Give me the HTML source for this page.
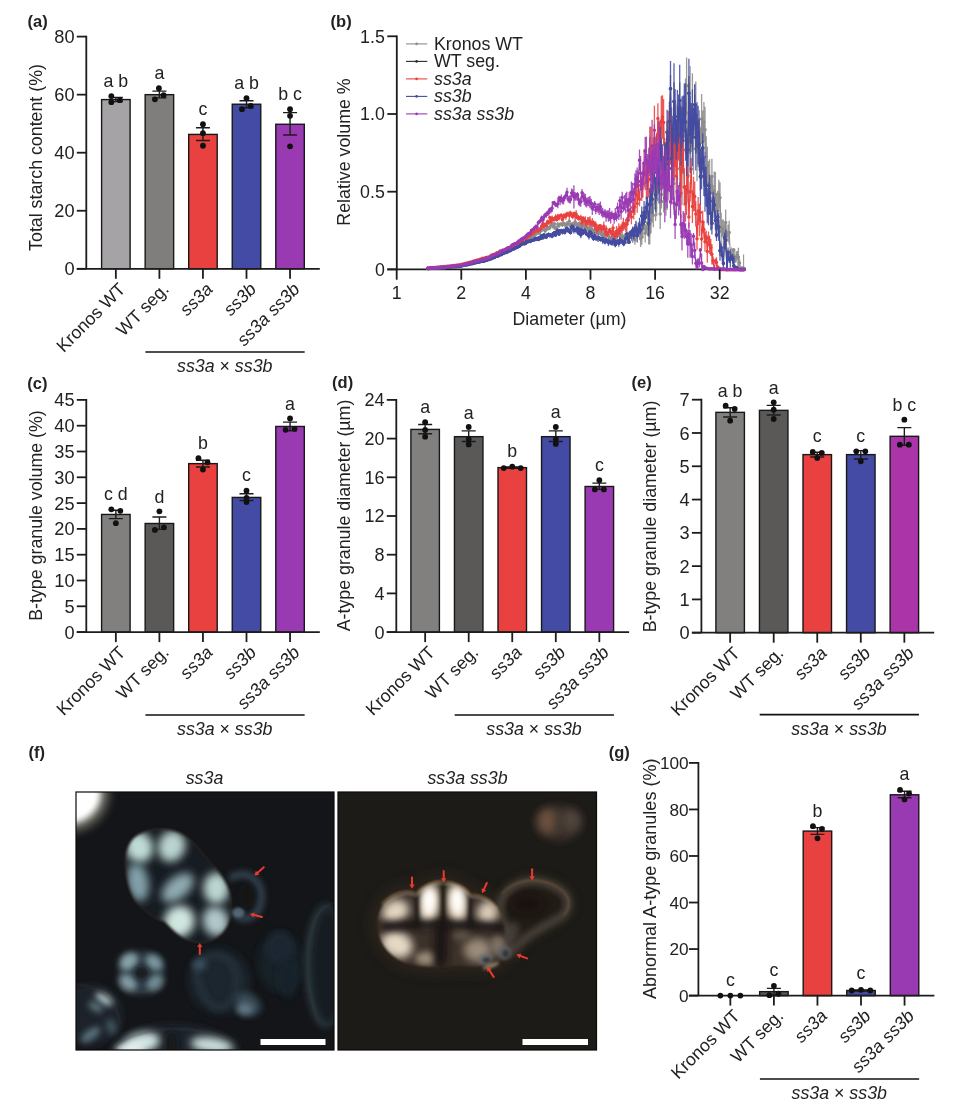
<!DOCTYPE html>
<html lang="en"><head><meta charset="utf-8"><title>Figure</title>
<style>html,body{margin:0;padding:0;background:#fff}svg{display:block}text{font-family:"Liberation Sans", Arial, Helvetica, sans-serif}</style>
</head><body>
<svg width="978" height="1109" viewBox="0 0 978 1109" font-family='"Liberation Sans", Arial, Helvetica, sans-serif' fill="#222222">
<g><rect x="101.60" y="99.58" width="28.5" height="169.22" fill="#a5a3a5" stroke="#181818" stroke-width="1.4"/>
<rect x="145.15" y="94.65" width="28.5" height="174.15" fill="#7f7e7c" stroke="#181818" stroke-width="1.4"/>
<rect x="188.70" y="134.41" width="28.5" height="134.39" fill="#e8413f" stroke="#181818" stroke-width="1.4"/>
<rect x="232.25" y="104.23" width="28.5" height="164.57" fill="#434ba5" stroke="#181818" stroke-width="1.4"/>
<rect x="275.80" y="124.26" width="28.5" height="144.54" fill="#9a3ab3" stroke="#181818" stroke-width="1.4"/>
<path d="M86.30 35.70V269.70M76.80 268.80H319.80" stroke="#1c1c1c" stroke-width="1.8" fill="none"/>
<path d="M76.80 268.80H86.30" stroke="#1c1c1c" stroke-width="1.8"/>
<text x="74.60" y="275.35" text-anchor="end" font-size="18.2">0</text>
<path d="M76.80 210.75H86.30" stroke="#1c1c1c" stroke-width="1.8"/>
<text x="74.60" y="217.30" text-anchor="end" font-size="18.2">20</text>
<path d="M76.80 152.70H86.30" stroke="#1c1c1c" stroke-width="1.8"/>
<text x="74.60" y="159.25" text-anchor="end" font-size="18.2">40</text>
<path d="M76.80 94.65H86.30" stroke="#1c1c1c" stroke-width="1.8"/>
<text x="74.60" y="101.20" text-anchor="end" font-size="18.2">60</text>
<path d="M76.80 36.60H86.30" stroke="#1c1c1c" stroke-width="1.8"/>
<text x="74.60" y="43.15" text-anchor="end" font-size="18.2">80</text>
<path d="M115.85 268.80v10" stroke="#1c1c1c" stroke-width="1.8"/>
<path d="M159.40 268.80v10" stroke="#1c1c1c" stroke-width="1.8"/>
<path d="M202.95 268.80v10" stroke="#1c1c1c" stroke-width="1.8"/>
<path d="M246.50 268.80v10" stroke="#1c1c1c" stroke-width="1.8"/>
<path d="M290.05 268.80v10" stroke="#1c1c1c" stroke-width="1.8"/>
<path d="M115.85 97.55V101.62M108.85 97.55h14M108.85 101.62h14" stroke="#1c1c1c" stroke-width="1.4" fill="none"/>
<path d="M159.40 91.17V97.84M152.40 91.17h14M152.40 97.84h14" stroke="#1c1c1c" stroke-width="1.4" fill="none"/>
<path d="M202.95 127.74V140.51M195.95 127.74h14M195.95 140.51h14" stroke="#1c1c1c" stroke-width="1.4" fill="none"/>
<path d="M246.50 100.75V107.71M239.50 100.75h14M239.50 107.71h14" stroke="#1c1c1c" stroke-width="1.4" fill="none"/>
<path d="M290.05 112.65V134.99M283.05 112.65h14M283.05 134.99h14" stroke="#1c1c1c" stroke-width="1.4" fill="none"/>
<circle cx="111.35" cy="96.10" r="2.9" fill="#111"/>
<circle cx="111.35" cy="102.20" r="2.9" fill="#111"/>
<circle cx="119.85" cy="100.16" r="2.9" fill="#111"/>
<circle cx="158.90" cy="88.26" r="2.9" fill="#111"/>
<circle cx="154.90" cy="99.29" r="2.9" fill="#111"/>
<circle cx="163.60" cy="95.23" r="2.9" fill="#111"/>
<circle cx="202.95" cy="124.26" r="2.9" fill="#111"/>
<circle cx="202.95" cy="133.25" r="2.9" fill="#111"/>
<circle cx="202.95" cy="145.73" r="2.9" fill="#111"/>
<circle cx="246.50" cy="98.13" r="2.9" fill="#111"/>
<circle cx="242.00" cy="109.16" r="2.9" fill="#111"/>
<circle cx="250.70" cy="105.97" r="2.9" fill="#111"/>
<circle cx="290.05" cy="109.16" r="2.9" fill="#111"/>
<circle cx="290.05" cy="115.84" r="2.9" fill="#111"/>
<circle cx="290.05" cy="146.31" r="2.9" fill="#111"/>
<text x="115.85" y="86.50" text-anchor="middle" font-size="17.8" style="white-space:pre">a b</text>
<text x="159.40" y="79.00" text-anchor="middle" font-size="17.8" style="white-space:pre">a</text>
<text x="202.95" y="114.50" text-anchor="middle" font-size="17.8" style="white-space:pre">c</text>
<text x="246.50" y="88.50" text-anchor="middle" font-size="17.8" style="white-space:pre">a b</text>
<text x="290.05" y="99.50" text-anchor="middle" font-size="17.8" style="white-space:pre">b c</text>
<text transform="translate(126.55 290.30) rotate(-45)" text-anchor="end" font-size="17.8">Kronos WT</text>
<text transform="translate(170.10 290.30) rotate(-45)" text-anchor="end" font-size="17.8">WT seg.</text>
<text transform="translate(213.65 290.30) rotate(-45)" text-anchor="end" font-size="17.8" font-style="italic">ss3a</text>
<text transform="translate(257.20 290.30) rotate(-45)" text-anchor="end" font-size="17.8" font-style="italic">ss3b</text>
<text transform="translate(300.75 290.30) rotate(-45)" text-anchor="end" font-size="17.8" font-style="italic">ss3a ss3b</text>
<path d="M145.40 352.00H304.65" stroke="#111" stroke-width="1.7"/>
<text x="224.72" y="372.00" text-anchor="middle" font-size="17.8" font-style="italic">ss3a <tspan font-style="normal">×</tspan> ss3b</text>
<text transform="translate(42.00 157.50) rotate(-90)" text-anchor="middle" font-size="17.8">Total starch content (%)</text>
<text x="27.6" y="27.2" font-size="16.5" font-weight="bold">(a)</text></g>
<g><rect x="101.60" y="514.45" width="28.5" height="117.65" fill="#81807f" stroke="#181818" stroke-width="1.4"/>
<rect x="145.15" y="523.48" width="28.5" height="108.62" fill="#5a5957" stroke="#181818" stroke-width="1.4"/>
<rect x="188.70" y="463.63" width="28.5" height="168.47" fill="#e8413f" stroke="#181818" stroke-width="1.4"/>
<rect x="232.25" y="497.42" width="28.5" height="134.68" fill="#434ba5" stroke="#181818" stroke-width="1.4"/>
<rect x="275.80" y="426.47" width="28.5" height="205.63" fill="#9a3ab3" stroke="#181818" stroke-width="1.4"/>
<path d="M86.30 399.00V633.00M76.80 632.10H319.80" stroke="#1c1c1c" stroke-width="1.8" fill="none"/>
<path d="M76.80 632.10H86.30" stroke="#1c1c1c" stroke-width="1.8"/>
<text x="74.60" y="638.65" text-anchor="end" font-size="18.2">0</text>
<path d="M76.80 606.30H86.30" stroke="#1c1c1c" stroke-width="1.8"/>
<text x="74.60" y="612.85" text-anchor="end" font-size="18.2">5</text>
<path d="M76.80 580.50H86.30" stroke="#1c1c1c" stroke-width="1.8"/>
<text x="74.60" y="587.05" text-anchor="end" font-size="18.2">10</text>
<path d="M76.80 554.70H86.30" stroke="#1c1c1c" stroke-width="1.8"/>
<text x="74.60" y="561.25" text-anchor="end" font-size="18.2">15</text>
<path d="M76.80 528.90H86.30" stroke="#1c1c1c" stroke-width="1.8"/>
<text x="74.60" y="535.45" text-anchor="end" font-size="18.2">20</text>
<path d="M76.80 503.10H86.30" stroke="#1c1c1c" stroke-width="1.8"/>
<text x="74.60" y="509.65" text-anchor="end" font-size="18.2">25</text>
<path d="M76.80 477.30H86.30" stroke="#1c1c1c" stroke-width="1.8"/>
<text x="74.60" y="483.85" text-anchor="end" font-size="18.2">30</text>
<path d="M76.80 451.50H86.30" stroke="#1c1c1c" stroke-width="1.8"/>
<text x="74.60" y="458.05" text-anchor="end" font-size="18.2">35</text>
<path d="M76.80 425.70H86.30" stroke="#1c1c1c" stroke-width="1.8"/>
<text x="74.60" y="432.25" text-anchor="end" font-size="18.2">40</text>
<path d="M76.80 399.90H86.30" stroke="#1c1c1c" stroke-width="1.8"/>
<text x="74.60" y="406.45" text-anchor="end" font-size="18.2">45</text>
<path d="M115.85 632.10v10" stroke="#1c1c1c" stroke-width="1.8"/>
<path d="M159.40 632.10v10" stroke="#1c1c1c" stroke-width="1.8"/>
<path d="M202.95 632.10v10" stroke="#1c1c1c" stroke-width="1.8"/>
<path d="M246.50 632.10v10" stroke="#1c1c1c" stroke-width="1.8"/>
<path d="M290.05 632.10v10" stroke="#1c1c1c" stroke-width="1.8"/>
<path d="M115.85 510.32V518.58M108.85 510.32h14M108.85 518.58h14" stroke="#1c1c1c" stroke-width="1.4" fill="none"/>
<path d="M159.40 517.03V529.42M152.40 517.03h14M152.40 529.42h14" stroke="#1c1c1c" stroke-width="1.4" fill="none"/>
<path d="M202.95 460.27V466.98M195.95 460.27h14M195.95 466.98h14" stroke="#1c1c1c" stroke-width="1.4" fill="none"/>
<path d="M246.50 493.81V500.52M239.50 493.81h14M239.50 500.52h14" stroke="#1c1c1c" stroke-width="1.4" fill="none"/>
<path d="M290.05 422.09V430.86M283.05 422.09h14M283.05 430.86h14" stroke="#1c1c1c" stroke-width="1.4" fill="none"/>
<circle cx="111.35" cy="509.29" r="2.9" fill="#111"/>
<circle cx="120.35" cy="510.84" r="2.9" fill="#111"/>
<circle cx="115.85" cy="523.22" r="2.9" fill="#111"/>
<circle cx="159.40" cy="511.36" r="2.9" fill="#111"/>
<circle cx="154.90" cy="529.93" r="2.9" fill="#111"/>
<circle cx="163.90" cy="527.35" r="2.9" fill="#111"/>
<circle cx="198.45" cy="458.21" r="2.9" fill="#111"/>
<circle cx="207.45" cy="462.34" r="2.9" fill="#111"/>
<circle cx="202.95" cy="469.56" r="2.9" fill="#111"/>
<circle cx="246.50" cy="490.72" r="2.9" fill="#111"/>
<circle cx="246.50" cy="497.94" r="2.9" fill="#111"/>
<circle cx="246.50" cy="502.07" r="2.9" fill="#111"/>
<circle cx="290.05" cy="418.48" r="2.9" fill="#111"/>
<circle cx="285.55" cy="429.83" r="2.9" fill="#111"/>
<circle cx="294.55" cy="428.80" r="2.9" fill="#111"/>
<text x="115.85" y="500.00" text-anchor="middle" font-size="17.8" style="white-space:pre">c d</text>
<text x="159.40" y="502.50" text-anchor="middle" font-size="17.8" style="white-space:pre">d</text>
<text x="202.95" y="449.00" text-anchor="middle" font-size="17.8" style="white-space:pre">b</text>
<text x="246.50" y="481.00" text-anchor="middle" font-size="17.8" style="white-space:pre">c</text>
<text x="290.05" y="409.50" text-anchor="middle" font-size="17.8" style="white-space:pre">a</text>
<text transform="translate(126.55 653.60) rotate(-45)" text-anchor="end" font-size="17.8">Kronos WT</text>
<text transform="translate(170.10 653.60) rotate(-45)" text-anchor="end" font-size="17.8">WT seg.</text>
<text transform="translate(213.65 653.60) rotate(-45)" text-anchor="end" font-size="17.8" font-style="italic">ss3a</text>
<text transform="translate(257.20 653.60) rotate(-45)" text-anchor="end" font-size="17.8" font-style="italic">ss3b</text>
<text transform="translate(300.75 653.60) rotate(-45)" text-anchor="end" font-size="17.8" font-style="italic">ss3a ss3b</text>
<path d="M145.40 715.00H304.65" stroke="#111" stroke-width="1.7"/>
<text x="224.72" y="735.00" text-anchor="middle" font-size="17.8" font-style="italic">ss3a <tspan font-style="normal">×</tspan> ss3b</text>
<text transform="translate(42.00 515.50) rotate(-90)" text-anchor="middle" font-size="17.8">B-type granule volume (%)</text>
<text x="27.3" y="388.6" font-size="16.5" font-weight="bold">(c)</text></g>
<g><rect x="410.90" y="429.41" width="28.5" height="202.69" fill="#81807f" stroke="#181818" stroke-width="1.4"/>
<rect x="454.45" y="436.66" width="28.5" height="195.44" fill="#5a5957" stroke="#181818" stroke-width="1.4"/>
<rect x="498.00" y="467.62" width="28.5" height="164.48" fill="#e8413f" stroke="#181818" stroke-width="1.4"/>
<rect x="541.55" y="436.66" width="28.5" height="195.44" fill="#434ba5" stroke="#181818" stroke-width="1.4"/>
<rect x="585.10" y="486.49" width="28.5" height="145.61" fill="#9a3ab3" stroke="#181818" stroke-width="1.4"/>
<path d="M396.30 399.00V633.00M386.80 632.10H629.10" stroke="#1c1c1c" stroke-width="1.8" fill="none"/>
<path d="M386.80 632.10H396.30" stroke="#1c1c1c" stroke-width="1.8"/>
<text x="384.60" y="638.58" text-anchor="end" font-size="18.0">0</text>
<path d="M386.80 593.40H396.30" stroke="#1c1c1c" stroke-width="1.8"/>
<text x="384.60" y="599.88" text-anchor="end" font-size="18.0">4</text>
<path d="M386.80 554.70H396.30" stroke="#1c1c1c" stroke-width="1.8"/>
<text x="384.60" y="561.18" text-anchor="end" font-size="18.0">8</text>
<path d="M386.80 516.00H396.30" stroke="#1c1c1c" stroke-width="1.8"/>
<text x="384.60" y="522.48" text-anchor="end" font-size="18.0">12</text>
<path d="M386.80 477.30H396.30" stroke="#1c1c1c" stroke-width="1.8"/>
<text x="384.60" y="483.78" text-anchor="end" font-size="18.0">16</text>
<path d="M386.80 438.60H396.30" stroke="#1c1c1c" stroke-width="1.8"/>
<text x="384.60" y="445.08" text-anchor="end" font-size="18.0">20</text>
<path d="M386.80 399.90H396.30" stroke="#1c1c1c" stroke-width="1.8"/>
<text x="384.60" y="406.38" text-anchor="end" font-size="18.0">24</text>
<path d="M425.15 632.10v10" stroke="#1c1c1c" stroke-width="1.8"/>
<path d="M468.70 632.10v10" stroke="#1c1c1c" stroke-width="1.8"/>
<path d="M512.25 632.10v10" stroke="#1c1c1c" stroke-width="1.8"/>
<path d="M555.80 632.10v10" stroke="#1c1c1c" stroke-width="1.8"/>
<path d="M599.35 632.10v10" stroke="#1c1c1c" stroke-width="1.8"/>
<path d="M425.15 424.57V433.76M418.15 424.57h14M418.15 433.76h14" stroke="#1c1c1c" stroke-width="1.4" fill="none"/>
<path d="M468.70 430.86V441.50M461.70 430.86h14M461.70 441.50h14" stroke="#1c1c1c" stroke-width="1.4" fill="none"/>
<path d="M512.25 466.95V468.30M505.25 466.95h14M505.25 468.30h14" stroke="#1c1c1c" stroke-width="1.4" fill="none"/>
<path d="M555.80 430.86V441.50M548.80 430.86h14M548.80 441.50h14" stroke="#1c1c1c" stroke-width="1.4" fill="none"/>
<path d="M599.35 483.11V489.39M592.35 483.11h14M592.35 489.39h14" stroke="#1c1c1c" stroke-width="1.4" fill="none"/>
<circle cx="425.15" cy="422.15" r="2.9" fill="#111"/>
<circle cx="425.15" cy="429.89" r="2.9" fill="#111"/>
<circle cx="425.15" cy="436.66" r="2.9" fill="#111"/>
<circle cx="468.70" cy="426.99" r="2.9" fill="#111"/>
<circle cx="468.70" cy="439.08" r="2.9" fill="#111"/>
<circle cx="468.70" cy="444.40" r="2.9" fill="#111"/>
<circle cx="503.75" cy="468.11" r="2.9" fill="#111"/>
<circle cx="512.25" cy="466.66" r="2.9" fill="#111"/>
<circle cx="520.75" cy="468.11" r="2.9" fill="#111"/>
<circle cx="555.80" cy="426.99" r="2.9" fill="#111"/>
<circle cx="555.80" cy="439.08" r="2.9" fill="#111"/>
<circle cx="555.80" cy="443.92" r="2.9" fill="#111"/>
<circle cx="599.35" cy="480.20" r="2.9" fill="#111"/>
<circle cx="594.85" cy="489.39" r="2.9" fill="#111"/>
<circle cx="603.85" cy="489.39" r="2.9" fill="#111"/>
<text x="425.15" y="412.50" text-anchor="middle" font-size="17.8" style="white-space:pre">a</text>
<text x="468.70" y="418.50" text-anchor="middle" font-size="17.8" style="white-space:pre">a</text>
<text x="512.25" y="457.00" text-anchor="middle" font-size="17.8" style="white-space:pre">b</text>
<text x="555.80" y="418.00" text-anchor="middle" font-size="17.8" style="white-space:pre">a</text>
<text x="599.35" y="470.50" text-anchor="middle" font-size="17.8" style="white-space:pre">c</text>
<text transform="translate(435.85 653.60) rotate(-45)" text-anchor="end" font-size="17.8">Kronos WT</text>
<text transform="translate(479.40 653.60) rotate(-45)" text-anchor="end" font-size="17.8">WT seg.</text>
<text transform="translate(522.95 653.60) rotate(-45)" text-anchor="end" font-size="17.8" font-style="italic">ss3a</text>
<text transform="translate(566.50 653.60) rotate(-45)" text-anchor="end" font-size="17.8" font-style="italic">ss3b</text>
<text transform="translate(610.05 653.60) rotate(-45)" text-anchor="end" font-size="17.8" font-style="italic">ss3a ss3b</text>
<path d="M454.70 715.00H613.95" stroke="#111" stroke-width="1.7"/>
<text x="534.03" y="735.00" text-anchor="middle" font-size="17.8" font-style="italic">ss3a <tspan font-style="normal">×</tspan> ss3b</text>
<text transform="translate(349.50 515.50) rotate(-90)" text-anchor="middle" font-size="17.8">A-type granule diameter (µm)</text>
<text x="332.1" y="388.2" font-size="16.5" font-weight="bold">(d)</text></g>
<g><rect x="715.90" y="412.35" width="28.5" height="220.35" fill="#81807f" stroke="#181818" stroke-width="1.4"/>
<rect x="759.45" y="410.35" width="28.5" height="222.35" fill="#5a5957" stroke="#181818" stroke-width="1.4"/>
<rect x="803.00" y="454.62" width="28.5" height="178.08" fill="#e8413f" stroke="#181818" stroke-width="1.4"/>
<rect x="846.55" y="454.62" width="28.5" height="178.08" fill="#434ba5" stroke="#181818" stroke-width="1.4"/>
<rect x="890.10" y="436.31" width="28.5" height="196.39" fill="#ab34a8" stroke="#181818" stroke-width="1.4"/>
<path d="M701.40 398.80V633.60M691.90 632.70H934.20" stroke="#1c1c1c" stroke-width="1.8" fill="none"/>
<path d="M691.90 632.70H701.40" stroke="#1c1c1c" stroke-width="1.8"/>
<text x="689.70" y="639.25" text-anchor="end" font-size="18.2">0</text>
<path d="M691.90 599.41H701.40" stroke="#1c1c1c" stroke-width="1.8"/>
<text x="689.70" y="605.97" text-anchor="end" font-size="18.2">1</text>
<path d="M691.90 566.13H701.40" stroke="#1c1c1c" stroke-width="1.8"/>
<text x="689.70" y="572.68" text-anchor="end" font-size="18.2">2</text>
<path d="M691.90 532.84H701.40" stroke="#1c1c1c" stroke-width="1.8"/>
<text x="689.70" y="539.39" text-anchor="end" font-size="18.2">3</text>
<path d="M691.90 499.56H701.40" stroke="#1c1c1c" stroke-width="1.8"/>
<text x="689.70" y="506.11" text-anchor="end" font-size="18.2">4</text>
<path d="M691.90 466.27H701.40" stroke="#1c1c1c" stroke-width="1.8"/>
<text x="689.70" y="472.82" text-anchor="end" font-size="18.2">5</text>
<path d="M691.90 432.99H701.40" stroke="#1c1c1c" stroke-width="1.8"/>
<text x="689.70" y="439.54" text-anchor="end" font-size="18.2">6</text>
<path d="M691.90 399.70H701.40" stroke="#1c1c1c" stroke-width="1.8"/>
<text x="689.70" y="406.25" text-anchor="end" font-size="18.2">7</text>
<path d="M730.15 632.70v10" stroke="#1c1c1c" stroke-width="1.8"/>
<path d="M773.70 632.70v10" stroke="#1c1c1c" stroke-width="1.8"/>
<path d="M817.25 632.70v10" stroke="#1c1c1c" stroke-width="1.8"/>
<path d="M860.80 632.70v10" stroke="#1c1c1c" stroke-width="1.8"/>
<path d="M904.35 632.70v10" stroke="#1c1c1c" stroke-width="1.8"/>
<path d="M730.15 407.69V417.01M723.15 407.69h14M723.15 417.01h14" stroke="#1c1c1c" stroke-width="1.4" fill="none"/>
<path d="M773.70 405.36V415.01M766.70 405.36h14M766.70 415.01h14" stroke="#1c1c1c" stroke-width="1.4" fill="none"/>
<path d="M817.25 452.29V456.95M810.25 452.29h14M810.25 456.95h14" stroke="#1c1c1c" stroke-width="1.4" fill="none"/>
<path d="M860.80 450.63V458.95M853.80 450.63h14M853.80 458.95h14" stroke="#1c1c1c" stroke-width="1.4" fill="none"/>
<path d="M904.35 427.66V445.30M897.35 427.66h14M897.35 445.30h14" stroke="#1c1c1c" stroke-width="1.4" fill="none"/>
<circle cx="725.65" cy="405.69" r="2.9" fill="#111"/>
<circle cx="734.65" cy="409.02" r="2.9" fill="#111"/>
<circle cx="730.15" cy="420.67" r="2.9" fill="#111"/>
<circle cx="773.70" cy="402.36" r="2.9" fill="#111"/>
<circle cx="773.70" cy="409.69" r="2.9" fill="#111"/>
<circle cx="773.70" cy="419.01" r="2.9" fill="#111"/>
<circle cx="812.75" cy="451.96" r="2.9" fill="#111"/>
<circle cx="821.75" cy="452.96" r="2.9" fill="#111"/>
<circle cx="817.25" cy="457.95" r="2.9" fill="#111"/>
<circle cx="856.30" cy="451.29" r="2.9" fill="#111"/>
<circle cx="865.30" cy="451.29" r="2.9" fill="#111"/>
<circle cx="860.80" cy="461.28" r="2.9" fill="#111"/>
<circle cx="904.35" cy="419.67" r="2.9" fill="#111"/>
<circle cx="899.85" cy="444.64" r="2.9" fill="#111"/>
<circle cx="908.85" cy="444.64" r="2.9" fill="#111"/>
<text x="730.15" y="396.50" text-anchor="middle" font-size="17.8" style="white-space:pre">a b</text>
<text x="773.70" y="393.50" text-anchor="middle" font-size="17.8" style="white-space:pre">a</text>
<text x="817.25" y="442.00" text-anchor="middle" font-size="17.8" style="white-space:pre">c</text>
<text x="860.80" y="441.50" text-anchor="middle" font-size="17.8" style="white-space:pre">c</text>
<text x="904.35" y="410.50" text-anchor="middle" font-size="17.8" style="white-space:pre">b c</text>
<text transform="translate(740.85 654.20) rotate(-45)" text-anchor="end" font-size="17.8">Kronos WT</text>
<text transform="translate(784.40 654.20) rotate(-45)" text-anchor="end" font-size="17.8">WT seg.</text>
<text transform="translate(827.95 654.20) rotate(-45)" text-anchor="end" font-size="17.8" font-style="italic">ss3a</text>
<text transform="translate(871.50 654.20) rotate(-45)" text-anchor="end" font-size="17.8" font-style="italic">ss3b</text>
<text transform="translate(915.05 654.20) rotate(-45)" text-anchor="end" font-size="17.8" font-style="italic">ss3a ss3b</text>
<path d="M759.70 714.70H918.95" stroke="#111" stroke-width="1.7"/>
<text x="839.02" y="734.70" text-anchor="middle" font-size="17.8" font-style="italic">ss3a <tspan font-style="normal">×</tspan> ss3b</text>
<text transform="translate(656.30 516.50) rotate(-90)" text-anchor="middle" font-size="17.8">B-type granule diameter (µm)</text>
<text x="631.6" y="388.2" font-size="16.5" font-weight="bold">(e)</text></g>
<g><rect x="759.65" y="991.64" width="28.5" height="3.96" fill="#5a5957" stroke="#181818" stroke-width="1.4"/>
<rect x="803.20" y="831.08" width="28.5" height="164.52" fill="#e8413f" stroke="#181818" stroke-width="1.4"/>
<rect x="846.75" y="990.48" width="28.5" height="5.12" fill="#434ba5" stroke="#181818" stroke-width="1.4"/>
<rect x="890.30" y="794.78" width="28.5" height="200.82" fill="#9a3ab3" stroke="#181818" stroke-width="1.4"/>
<path d="M698.40 762.00V996.50M688.90 995.60H934.40" stroke="#1c1c1c" stroke-width="1.8" fill="none"/>
<path d="M688.90 995.60H698.40" stroke="#1c1c1c" stroke-width="1.8"/>
<text x="688.60" y="1001.79" text-anchor="end" font-size="17.2">0</text>
<path d="M688.90 949.06H698.40" stroke="#1c1c1c" stroke-width="1.8"/>
<text x="688.60" y="955.25" text-anchor="end" font-size="17.2">20</text>
<path d="M688.90 902.52H698.40" stroke="#1c1c1c" stroke-width="1.8"/>
<text x="688.60" y="908.71" text-anchor="end" font-size="17.2">40</text>
<path d="M688.90 855.98H698.40" stroke="#1c1c1c" stroke-width="1.8"/>
<text x="688.60" y="862.17" text-anchor="end" font-size="17.2">60</text>
<path d="M688.90 809.44H698.40" stroke="#1c1c1c" stroke-width="1.8"/>
<text x="688.60" y="815.63" text-anchor="end" font-size="17.2">80</text>
<path d="M688.90 762.90H698.40" stroke="#1c1c1c" stroke-width="1.8"/>
<text x="688.60" y="769.09" text-anchor="end" font-size="17.2">100</text>
<path d="M730.35 995.60v10" stroke="#1c1c1c" stroke-width="1.8"/>
<path d="M773.90 995.60v10" stroke="#1c1c1c" stroke-width="1.8"/>
<path d="M817.45 995.60v10" stroke="#1c1c1c" stroke-width="1.8"/>
<path d="M861.00 995.60v10" stroke="#1c1c1c" stroke-width="1.8"/>
<path d="M904.55 995.60v10" stroke="#1c1c1c" stroke-width="1.8"/>
<path d="M773.90 988.39V994.90M766.90 988.39h14M766.90 994.90h14" stroke="#1c1c1c" stroke-width="1.4" fill="none"/>
<path d="M817.45 827.59V834.34M810.45 827.59h14M810.45 834.34h14" stroke="#1c1c1c" stroke-width="1.4" fill="none"/>
<path d="M861.00 990.02V990.95M854.00 990.02h14M854.00 990.95h14" stroke="#1c1c1c" stroke-width="1.4" fill="none"/>
<path d="M904.55 791.29V797.80M897.55 791.29h14M897.55 797.80h14" stroke="#1c1c1c" stroke-width="1.4" fill="none"/>
<circle cx="720.35" cy="995.60" r="2.9" fill="#111"/>
<circle cx="730.35" cy="995.60" r="2.9" fill="#111"/>
<circle cx="740.35" cy="995.60" r="2.9" fill="#111"/>
<circle cx="773.90" cy="985.83" r="2.9" fill="#111"/>
<circle cx="769.40" cy="995.13" r="2.9" fill="#111"/>
<circle cx="778.40" cy="993.74" r="2.9" fill="#111"/>
<circle cx="812.95" cy="826.19" r="2.9" fill="#111"/>
<circle cx="821.95" cy="828.99" r="2.9" fill="#111"/>
<circle cx="817.45" cy="838.29" r="2.9" fill="#111"/>
<circle cx="851.70" cy="990.48" r="2.9" fill="#111"/>
<circle cx="861.00" cy="989.78" r="2.9" fill="#111"/>
<circle cx="870.30" cy="990.48" r="2.9" fill="#111"/>
<circle cx="900.05" cy="789.89" r="2.9" fill="#111"/>
<circle cx="909.05" cy="793.62" r="2.9" fill="#111"/>
<circle cx="904.55" cy="799.43" r="2.9" fill="#111"/>
<text x="730.35" y="985.50" text-anchor="middle" font-size="17.8" style="white-space:pre">c</text>
<text x="773.90" y="976.00" text-anchor="middle" font-size="17.8" style="white-space:pre">c</text>
<text x="817.45" y="816.50" text-anchor="middle" font-size="17.8" style="white-space:pre">b</text>
<text x="861.00" y="979.00" text-anchor="middle" font-size="17.8" style="white-space:pre">c</text>
<text x="904.55" y="780.00" text-anchor="middle" font-size="17.8" style="white-space:pre">a</text>
<text transform="translate(741.05 1017.10) rotate(-45)" text-anchor="end" font-size="17.8">Kronos WT</text>
<text transform="translate(784.60 1017.10) rotate(-45)" text-anchor="end" font-size="17.8">WT seg.</text>
<text transform="translate(828.15 1017.10) rotate(-45)" text-anchor="end" font-size="17.8" font-style="italic">ss3a</text>
<text transform="translate(871.70 1017.10) rotate(-45)" text-anchor="end" font-size="17.8" font-style="italic">ss3b</text>
<text transform="translate(915.25 1017.10) rotate(-45)" text-anchor="end" font-size="17.8" font-style="italic">ss3a ss3b</text>
<path d="M759.90 1079.00H919.15" stroke="#111" stroke-width="1.7"/>
<text x="839.22" y="1099.00" text-anchor="middle" font-size="17.8" font-style="italic">ss3a <tspan font-style="normal">×</tspan> ss3b</text>
<text transform="translate(656.30 878.80) rotate(-90)" text-anchor="middle" font-size="18.05">Abnormal A-type granules (%)</text>
<text x="608.8" y="758.0" font-size="16.5" font-weight="bold">(g)</text></g>
<g><text x="330.6" y="27.2" font-size="16.5" font-weight="bold">(b)</text>
<path d="M396.80 35.40V269.40M387.30 269.40H746" stroke="#1c1c1c" stroke-width="1.8" fill="none"/>
<path d="M427.9 267.9V268.9M429.0 267.9V268.8M430.2 267.8V268.8M431.3 267.8V268.8M432.5 267.7V268.7M433.6 267.6V268.6M434.8 267.5V268.5M435.9 267.5V268.4M437.1 267.4V268.4M438.2 267.3V268.3M439.4 267.3V268.3M440.5 267.2V268.2M441.7 267.1V268.1M442.8 267.0V268.0M444.0 266.9V268.0M445.1 266.9V267.9M446.3 266.7V267.8M447.4 266.6V267.6M448.6 266.6V267.6M449.7 266.5V267.5M450.9 266.3V267.3M452.0 266.3V267.3M453.2 266.1V267.1M454.3 265.9V267.0M455.5 265.9V266.9M456.6 265.8V266.9M457.8 265.7V266.7M458.9 265.6V266.7M460.1 265.4V266.5M461.2 265.2V266.4M462.4 265.0V266.2M463.5 264.8V266.0M464.7 264.6V265.6M465.8 264.2V265.4M467.0 264.0V265.1M468.1 263.7V264.8M469.3 263.4V264.6M470.4 263.1V264.2M471.6 263.0V264.2M472.7 262.5V263.7M473.9 262.4V263.5M475.0 262.2V263.4M476.2 261.8V263.0M477.3 261.5V262.8M478.5 261.2V262.3M479.6 261.1V262.3M480.8 260.6V262.0M481.9 260.5V261.6M483.1 260.3V261.7M484.2 260.0V261.3M485.4 259.5V260.8M486.5 259.1V260.5M487.7 258.7V260.0M488.8 258.2V259.8M490.0 258.0V259.2M491.1 257.4V258.9M492.3 256.6V258.4M493.4 256.7V258.0M494.6 255.9V257.5M495.7 255.2V257.0M496.9 255.0V257.0M498.0 254.1V255.7M499.2 254.0V255.7M500.3 253.2V255.2M501.5 252.2V254.1M502.6 252.3V254.4M503.8 251.8V253.8M504.9 251.1V252.5M506.1 251.1V252.8M507.2 250.1V252.4M508.4 249.5V251.4M509.5 249.0V250.8M510.7 248.4V250.1M511.8 247.9V249.5M513.0 246.6V248.8M514.1 246.1V248.1M515.3 245.2V247.8M516.4 245.5V247.1M517.6 244.3V247.0M518.7 244.5V246.3M519.9 242.3V245.0M521.0 242.9V245.2M522.2 240.8V243.5M523.3 239.8V242.2M524.5 240.7V242.7M525.6 239.1V242.5M526.8 238.5V241.4M527.9 237.4V239.6M529.1 237.3V240.3M530.2 236.5V238.8M531.4 235.8V238.6M532.5 234.7V237.9M533.7 232.8V236.2M534.8 234.3V236.6M536.0 232.7V235.2M537.1 231.4V234.7M538.3 230.1V233.6M539.4 230.8V235.2M540.6 228.4V232.2M541.7 228.1V232.5M542.9 227.7V231.0M544.0 228.2V231.1M545.2 229.3V232.5M546.3 228.3V230.8M547.5 225.8V229.4M548.6 225.8V230.3M549.8 225.2V230.3M550.9 223.6V226.9M552.1 221.9V226.8M553.2 224.0V229.2M554.4 221.4V226.3M555.5 225.4V231.4M556.7 225.9V230.6M557.8 222.2V226.5M559.0 223.2V227.9M560.1 222.8V225.6M561.3 222.7V225.5M562.4 222.4V227.1M563.6 221.3V225.6M564.7 222.4V225.8M565.9 224.2V228.5M567.0 221.0V226.5M568.2 221.2V226.3M569.3 219.0V223.5M570.5 222.8V229.0M571.6 222.6V225.9M572.8 221.7V228.6M573.9 221.8V227.9M575.1 219.6V224.6M576.2 221.2V227.5M577.4 222.2V229.7M578.5 222.0V228.2M579.7 221.0V227.5M580.8 224.2V230.9M582.0 222.7V230.4M583.1 219.9V227.6M584.3 222.9V227.7M585.4 225.5V229.1M586.6 226.1V230.9M587.7 225.7V231.0M588.9 228.9V233.7M590.0 224.3V230.2M591.2 224.6V232.9M592.3 227.3V231.8M593.5 229.9V235.4M594.6 228.1V235.9M595.8 228.1V232.3M596.9 228.4V233.8M598.1 229.7V236.1M599.2 227.7V235.3M600.4 227.1V235.2M601.5 232.0V237.0M602.7 230.3V239.0M603.8 232.7V238.6M605.0 234.4V238.7M606.1 231.2V235.6M607.3 231.3V237.3M608.4 231.0V239.0M609.6 236.2V240.2M610.7 235.9V240.7M611.9 232.8V240.9M613.0 233.7V241.9M614.2 234.6V239.4M615.3 236.7V240.8M616.5 232.5V240.1M617.6 229.9V238.3M618.8 232.6V236.8M619.9 231.1V238.1M621.1 235.4V240.2M622.2 232.2V239.9M623.4 236.4V241.2M624.5 233.4V238.4M625.7 234.7V242.4M626.8 233.3V243.9M628.0 236.4V241.0M629.1 232.6V237.7M630.3 232.8V238.9M631.4 230.3V241.0M632.6 235.5V243.1M633.7 230.6V239.1M634.9 235.2V244.8M636.0 220.8V235.6M637.2 229.9V237.7M638.3 226.2V236.7M639.5 225.9V237.9M640.6 230.7V246.9M641.8 229.6V244.7M642.9 218.8V238.2M644.1 210.2V225.3M645.2 224.0V242.6M646.4 224.8V233.7M647.5 209.3V236.3M648.7 223.2V244.5M649.8 220.5V244.6M651.0 207.2V232.2M652.1 205.5V222.8M653.3 203.3V227.2M654.4 180.4V205.8M655.6 195.3V221.0M656.7 182.6V216.2M657.9 168.3V194.0M659.0 160.3V190.6M660.2 199.2V228.9M661.3 180.6V208.4M662.5 159.1V179.3M663.6 190.7V212.5M664.8 173.7V209.4M665.9 171.8V215.8M667.1 173.0V210.1M668.2 168.6V200.5M669.4 140.2V177.9M670.5 122.8V149.3M671.7 107.2V146.5M672.8 122.1V178.0M674.0 152.1V215.1M675.1 127.9V159.6M676.3 120.1V171.6M677.4 103.1V154.5M678.6 111.0V160.7M679.7 150.5V186.9M680.9 105.3V134.6M682.0 138.5V205.3M683.2 125.2V155.9M684.3 95.9V138.0M685.5 78.4V150.9M686.6 57.4V114.0M687.8 147.4V202.5M688.9 82.7V142.7M690.1 66.1V143.7M691.2 105.8V152.0M692.4 73.2V141.6M693.5 123.0V174.7M694.7 84.4V134.8M695.8 81.5V147.0M697.0 121.2V181.3M698.1 126.2V167.0M699.3 110.3V167.4M700.4 127.2V177.3M701.6 93.9V144.0M702.7 110.4V172.5M703.9 102.1V141.8M705.0 106.7V152.7M706.2 136.3V177.0M707.3 146.6V185.9M708.5 161.1V208.7M709.6 159.2V214.4M710.8 177.1V205.3M711.9 158.7V194.4M713.1 185.0V218.2M714.2 171.5V211.1M715.4 171.9V217.7M716.5 192.7V227.0M717.7 190.7V230.1M718.8 179.8V208.7M720.0 182.2V213.4M721.1 212.6V249.9M722.3 219.6V237.2M723.4 219.6V248.7M724.6 223.6V249.8M725.7 209.4V235.9M726.9 231.0V238.3M728.0 224.4V242.1M729.2 220.7V244.4M730.3 248.9V258.8M731.5 247.6V261.0M732.6 248.4V261.4M733.8 247.9V252.2M734.9 256.9V263.0M736.1 251.3V262.5M737.2 251.1V259.7M738.4 247.8V266.6M739.5 259.0V266.8M740.7 266.9V269.4M741.8 267.1V268.7M743.0 267.2V268.7M744.1 267.8V269.2" stroke="#8d8b8c" stroke-width="1.3" fill="none" opacity="0.88"/>
<path d="M427.9 268.4L429.0 268.4L430.2 268.3L431.3 268.3L432.5 268.2L433.6 268.1L434.8 268.0L435.9 267.9L437.1 267.9L438.2 267.8L439.4 267.8L440.5 267.7L441.7 267.6L442.8 267.5L444.0 267.5L445.1 267.4L446.3 267.2L447.4 267.1L448.6 267.1L449.7 267.0L450.9 266.8L452.0 266.8L453.2 266.6L454.3 266.5L455.5 266.4L456.6 266.4L457.8 266.2L458.9 266.1L460.1 266.0L461.2 265.8L462.4 265.6L463.5 265.4L464.7 265.1L465.8 264.8L467.0 264.5L468.1 264.3L469.3 264.0L470.4 263.6L471.6 263.6L472.7 263.1L473.9 263.0L475.0 262.8L476.2 262.4L477.3 262.1L478.5 261.8L479.6 261.7L480.8 261.3L481.9 261.0L483.1 261.0L484.2 260.7L485.4 260.1L486.5 259.8L487.7 259.4L488.8 259.0L490.0 258.6L491.1 258.1L492.3 257.5L493.4 257.3L494.6 256.7L495.7 256.1L496.9 256.0L498.0 254.9L499.2 254.9L500.3 254.2L501.5 253.2L502.6 253.4L503.8 252.8L504.9 251.8L506.1 252.0L507.2 251.3L508.4 250.5L509.5 249.9L510.7 249.3L511.8 248.7L513.0 247.7L514.1 247.1L515.3 246.5L516.4 246.3L517.6 245.6L518.7 245.4L519.9 243.7L521.0 244.0L522.2 242.1L523.3 241.0L524.5 241.7L525.6 240.8L526.8 240.0L527.9 238.5L529.1 238.8L530.2 237.6L531.4 237.2L532.5 236.3L533.7 234.5L534.8 235.4L536.0 233.9L537.1 233.0L538.3 231.9L539.4 233.0L540.6 230.3L541.7 230.3L542.9 229.3L544.0 229.6L545.2 230.9L546.3 229.5L547.5 227.6L548.6 228.0L549.8 227.7L550.9 225.2L552.1 224.3L553.2 226.6L554.4 223.8L555.5 228.4L556.7 228.3L557.8 224.3L559.0 225.6L560.1 224.2L561.3 224.1L562.4 224.8L563.6 223.5L564.7 224.1L565.9 226.4L567.0 223.7L568.2 223.7L569.3 221.2L570.5 225.9L571.6 224.3L572.8 225.1L573.9 224.9L575.1 222.1L576.2 224.4L577.4 226.0L578.5 225.1L579.7 224.3L580.8 227.5L582.0 226.6L583.1 223.7L584.3 225.3L585.4 227.3L586.6 228.5L587.7 228.3L588.9 231.3L590.0 227.2L591.2 228.8L592.3 229.6L593.5 232.6L594.6 232.0L595.8 230.2L596.9 231.1L598.1 232.9L599.2 231.5L600.4 231.1L601.5 234.5L602.7 234.6L603.8 235.7L605.0 236.6L606.1 233.4L607.3 234.3L608.4 235.0L609.6 238.2L610.7 238.3L611.9 236.9L613.0 237.8L614.2 237.0L615.3 238.8L616.5 236.3L617.6 234.1L618.8 234.7L619.9 234.6L621.1 237.8L622.2 236.1L623.4 238.8L624.5 235.9L625.7 238.6L626.8 238.6L628.0 238.7L629.1 235.2L630.3 235.8L631.4 235.7L632.6 239.3L633.7 234.8L634.9 240.0L636.0 228.2L637.2 233.8L638.3 231.4L639.5 231.9L640.6 238.8L641.8 237.1L642.9 228.5L644.1 217.8L645.2 233.3L646.4 229.2L647.5 222.8L648.7 233.9L649.8 232.6L651.0 219.7L652.1 214.1L653.3 215.3L654.4 193.1L655.6 208.1L656.7 199.4L657.9 181.2L659.0 175.4L660.2 214.1L661.3 194.5L662.5 169.2L663.6 201.6L664.8 191.5L665.9 193.8L667.1 191.5L668.2 184.6L669.4 159.1L670.5 136.1L671.7 126.9L672.8 150.0L674.0 183.6L675.1 143.7L676.3 145.9L677.4 128.8L678.6 135.8L679.7 168.7L680.9 120.0L682.0 171.9L683.2 140.6L684.3 116.9L685.5 114.6L686.6 85.7L687.8 174.9L688.9 112.7L690.1 104.9L691.2 128.9L692.4 107.4L693.5 148.8L694.7 109.6L695.8 114.3L697.0 151.2L698.1 146.6L699.3 138.8L700.4 152.3L701.6 119.0L702.7 141.4L703.9 122.0L705.0 129.7L706.2 156.7L707.3 166.3L708.5 184.9L709.6 186.8L710.8 191.2L711.9 176.6L713.1 201.6L714.2 191.3L715.4 194.8L716.5 209.8L717.7 210.4L718.8 194.2L720.0 197.8L721.1 231.2L722.3 228.4L723.4 234.1L724.6 236.7L725.7 222.6L726.9 234.7L728.0 233.2L729.2 232.5L730.3 253.8L731.5 254.3L732.6 254.9L733.8 250.1L734.9 259.9L736.1 256.9L737.2 255.4L738.4 257.2L739.5 262.9L740.7 269.4L741.8 267.9L743.0 268.0L744.1 268.5" stroke="#8d8b8c" stroke-width="1.1" fill="none" stroke-linejoin="round"/>
<path d="M427.9 268.4h0M429.0 268.4h0M430.2 268.3h0M431.3 268.3h0M432.5 268.2h0M433.6 268.1h0M434.8 268.0h0M435.9 267.9h0M437.1 267.9h0M438.2 267.8h0M439.4 267.8h0M440.5 267.7h0M441.7 267.6h0M442.8 267.5h0M444.0 267.5h0M445.1 267.4h0M446.3 267.2h0M447.4 267.1h0M448.6 267.1h0M449.7 267.0h0M450.9 266.8h0M452.0 266.8h0M453.2 266.6h0M454.3 266.5h0M455.5 266.4h0M456.6 266.4h0M457.8 266.2h0M458.9 266.1h0M460.1 266.0h0M461.2 265.8h0M462.4 265.6h0M463.5 265.4h0M464.7 265.1h0M465.8 264.8h0M467.0 264.5h0M468.1 264.3h0M469.3 264.0h0M470.4 263.6h0M471.6 263.6h0M472.7 263.1h0M473.9 263.0h0M475.0 262.8h0M476.2 262.4h0M477.3 262.1h0M478.5 261.8h0M479.6 261.7h0M480.8 261.3h0M481.9 261.0h0M483.1 261.0h0M484.2 260.7h0M485.4 260.1h0M486.5 259.8h0M487.7 259.4h0M488.8 259.0h0M490.0 258.6h0M491.1 258.1h0M492.3 257.5h0M493.4 257.3h0M494.6 256.7h0M495.7 256.1h0M496.9 256.0h0M498.0 254.9h0M499.2 254.9h0M500.3 254.2h0M501.5 253.2h0M502.6 253.4h0M503.8 252.8h0M504.9 251.8h0M506.1 252.0h0M507.2 251.3h0M508.4 250.5h0M509.5 249.9h0M510.7 249.3h0M511.8 248.7h0M513.0 247.7h0M514.1 247.1h0M515.3 246.5h0M516.4 246.3h0M517.6 245.6h0M518.7 245.4h0M519.9 243.7h0M521.0 244.0h0M522.2 242.1h0M523.3 241.0h0M524.5 241.7h0M525.6 240.8h0M526.8 240.0h0M527.9 238.5h0M529.1 238.8h0M530.2 237.6h0M531.4 237.2h0M532.5 236.3h0M533.7 234.5h0M534.8 235.4h0M536.0 233.9h0M537.1 233.0h0M538.3 231.9h0M539.4 233.0h0M540.6 230.3h0M541.7 230.3h0M542.9 229.3h0M544.0 229.6h0M545.2 230.9h0M546.3 229.5h0M547.5 227.6h0M548.6 228.0h0M549.8 227.7h0M550.9 225.2h0M552.1 224.3h0M553.2 226.6h0M554.4 223.8h0M555.5 228.4h0M556.7 228.3h0M557.8 224.3h0M559.0 225.6h0M560.1 224.2h0M561.3 224.1h0M562.4 224.8h0M563.6 223.5h0M564.7 224.1h0M565.9 226.4h0M567.0 223.7h0M568.2 223.7h0M569.3 221.2h0M570.5 225.9h0M571.6 224.3h0M572.8 225.1h0M573.9 224.9h0M575.1 222.1h0M576.2 224.4h0M577.4 226.0h0M578.5 225.1h0M579.7 224.3h0M580.8 227.5h0M582.0 226.6h0M583.1 223.7h0M584.3 225.3h0M585.4 227.3h0M586.6 228.5h0M587.7 228.3h0M588.9 231.3h0M590.0 227.2h0M591.2 228.8h0M592.3 229.6h0M593.5 232.6h0M594.6 232.0h0M595.8 230.2h0M596.9 231.1h0M598.1 232.9h0M599.2 231.5h0M600.4 231.1h0M601.5 234.5h0M602.7 234.6h0M603.8 235.7h0M605.0 236.6h0M606.1 233.4h0M607.3 234.3h0M608.4 235.0h0M609.6 238.2h0M610.7 238.3h0M611.9 236.9h0M613.0 237.8h0M614.2 237.0h0M615.3 238.8h0M616.5 236.3h0M617.6 234.1h0M618.8 234.7h0M619.9 234.6h0M621.1 237.8h0M622.2 236.1h0M623.4 238.8h0M624.5 235.9h0M625.7 238.6h0M626.8 238.6h0M628.0 238.7h0M629.1 235.2h0M630.3 235.8h0M631.4 235.7h0M632.6 239.3h0M633.7 234.8h0M634.9 240.0h0M636.0 228.2h0M637.2 233.8h0M638.3 231.4h0M639.5 231.9h0M640.6 238.8h0M641.8 237.1h0M642.9 228.5h0M644.1 217.8h0M645.2 233.3h0M646.4 229.2h0M647.5 222.8h0M648.7 233.9h0M649.8 232.6h0M651.0 219.7h0M652.1 214.1h0M653.3 215.3h0M654.4 193.1h0M655.6 208.1h0M656.7 199.4h0M657.9 181.2h0M659.0 175.4h0M660.2 214.1h0M661.3 194.5h0M662.5 169.2h0M663.6 201.6h0M664.8 191.5h0M665.9 193.8h0M667.1 191.5h0M668.2 184.6h0M669.4 159.1h0M670.5 136.1h0M671.7 126.9h0M672.8 150.0h0M674.0 183.6h0M675.1 143.7h0M676.3 145.9h0M677.4 128.8h0M678.6 135.8h0M679.7 168.7h0M680.9 120.0h0M682.0 171.9h0M683.2 140.6h0M684.3 116.9h0M685.5 114.6h0M686.6 85.7h0M687.8 174.9h0M688.9 112.7h0M690.1 104.9h0M691.2 128.9h0M692.4 107.4h0M693.5 148.8h0M694.7 109.6h0M695.8 114.3h0M697.0 151.2h0M698.1 146.6h0M699.3 138.8h0M700.4 152.3h0M701.6 119.0h0M702.7 141.4h0M703.9 122.0h0M705.0 129.7h0M706.2 156.7h0M707.3 166.3h0M708.5 184.9h0M709.6 186.8h0M710.8 191.2h0M711.9 176.6h0M713.1 201.6h0M714.2 191.3h0M715.4 194.8h0M716.5 209.8h0M717.7 210.4h0M718.8 194.2h0M720.0 197.8h0M721.1 231.2h0M722.3 228.4h0M723.4 234.1h0M724.6 236.7h0M725.7 222.6h0M726.9 234.7h0M728.0 233.2h0M729.2 232.5h0M730.3 253.8h0M731.5 254.3h0M732.6 254.9h0M733.8 250.1h0M734.9 259.9h0M736.1 256.9h0M737.2 255.4h0M738.4 257.2h0M739.5 262.9h0M740.7 269.4h0M741.8 267.9h0M743.0 268.0h0M744.1 268.5h0" stroke="#8d8b8c" stroke-width="3.5" stroke-linecap="round" fill="none"/>
<path d="M738 268V254M743.6 268V254.5" stroke="#8d8b8c" stroke-width="1.1" opacity="0.9"/>
<path d="M427.9 268.1V268.6M429.0 268.1V268.6M430.2 268.1V268.6M431.3 268.0V268.5M432.5 267.9V268.4M433.6 267.9V268.4M434.8 267.8V268.3M435.9 267.7V268.2M437.1 267.7V268.2M438.2 267.5V268.0M439.4 267.5V268.0M440.5 267.4V267.9M441.7 267.3V267.8M442.8 267.3V267.8M444.0 267.2V267.7M445.1 267.1V267.6M446.3 267.0V267.5M447.4 266.9V267.4M448.6 266.9V267.4M449.7 266.7V267.3M450.9 266.6V267.1M452.0 266.5V267.0M453.2 266.4V266.9M454.3 266.3V266.8M455.5 266.2V266.7M456.6 266.1V266.7M457.8 266.0V266.5M458.9 265.8V266.3M460.1 265.7V266.2M461.2 265.6V266.1M462.4 265.3V265.8M463.5 265.1V265.6M464.7 264.8V265.4M465.8 264.5V265.0M467.0 264.4V264.9M468.1 264.1V264.7M469.3 264.0V264.6M470.4 263.6V264.1M471.6 263.3V263.8M472.7 263.1V263.7M473.9 262.8V263.4M475.0 262.5V263.0M476.2 262.2V262.9M477.3 262.0V262.6M478.5 261.8V262.4M479.6 261.5V262.1M480.8 261.1V261.8M481.9 261.0V261.6M483.1 260.7V261.5M484.2 260.5V261.2M485.4 260.1V260.9M486.5 259.8V260.5M487.7 259.4V260.1M488.8 259.1V259.7M490.0 258.7V259.5M491.1 258.4V259.2M492.3 257.6V258.3M493.4 257.4V258.1M494.6 256.7V257.6M495.7 256.0V256.9M496.9 255.7V256.6M498.0 255.5V256.2M499.2 254.6V255.5M500.3 254.4V255.2M501.5 254.0V254.7M502.6 253.1V253.9M503.8 252.6V253.7M504.9 251.7V252.4M506.1 252.3V253.0M507.2 251.5V252.3M508.4 250.9V251.6M509.5 250.1V250.9M510.7 249.8V251.0M511.8 248.9V249.7M513.0 248.6V249.7M514.1 248.3V249.4M515.3 247.6V248.5M516.4 246.8V248.0M517.6 246.4V247.3M518.7 245.8V247.0M519.9 245.0V246.4M521.0 244.1V245.1M522.2 243.6V244.5M523.3 242.6V243.5M524.5 243.0V244.4M525.6 242.7V243.9M526.8 240.9V241.7M527.9 241.1V242.3M529.1 240.5V242.1M530.2 241.0V242.2M531.4 239.8V241.1M532.5 239.7V240.9M533.7 239.2V240.5M534.8 238.2V239.3M536.0 239.1V240.2M537.1 237.6V239.6M538.3 238.8V240.3M539.4 236.9V238.3M540.6 237.7V239.0M541.7 234.8V236.7M542.9 237.1V238.5M544.0 234.1V236.0M545.2 236.0V237.3M546.3 236.2V237.8M547.5 234.0V236.1M548.6 233.5V235.7M549.8 234.2V236.5M550.9 234.4V236.2M552.1 235.0V237.1M553.2 232.8V234.6M554.4 232.0V233.3M555.5 233.9V235.8M556.7 231.5V233.1M557.8 229.8V231.1M559.0 233.1V234.8M560.1 230.2V232.0M561.3 229.8V232.0M562.4 230.8V233.3M563.6 229.6V231.8M564.7 231.1V233.3M565.9 229.3V230.9M567.0 227.6V229.1M568.2 229.8V231.5M569.3 229.5V232.2M570.5 231.7V233.5M571.6 225.8V228.6M572.8 225.8V228.4M573.9 229.0V232.0M575.1 228.8V230.9M576.2 228.9V231.8M577.4 227.2V229.7M578.5 232.1V234.1M579.7 228.8V231.3M580.8 233.0V236.5M582.0 229.1V232.3M583.1 232.3V234.0M584.3 229.4V231.3M585.4 231.1V232.7M586.6 233.1V235.1M587.7 233.8V235.7M588.9 234.3V237.7M590.0 231.0V233.1M591.2 232.3V234.8M592.3 235.7V237.7M593.5 237.1V239.6M594.6 234.3V237.9M595.8 235.7V239.0M596.9 237.9V239.5M598.1 236.5V240.1M599.2 237.0V238.9M600.4 238.4V240.5M601.5 237.9V239.9M602.7 238.5V242.0M603.8 238.7V241.7M605.0 240.4V243.2M606.1 238.9V241.4M607.3 240.3V242.6M608.4 240.6V244.2M609.6 240.8V243.0M610.7 241.6V243.8M611.9 241.1V244.2M613.0 239.7V243.3M614.2 239.4V242.1M615.3 243.4V246.0M616.5 241.1V243.1M617.6 240.0V242.8M618.8 241.7V245.0M619.9 238.5V242.1M621.1 239.9V242.5M622.2 240.4V242.4M623.4 242.1V244.9M624.5 240.8V244.0M625.7 237.6V239.6M626.8 233.0V235.2M628.0 235.9V241.0M629.1 240.7V243.0M630.3 231.6V234.0M631.4 232.3V237.0M632.6 228.5V232.3M633.7 233.1V237.4M634.9 226.2V230.8M636.0 225.3V233.0M637.2 231.4V238.7M638.3 226.2V233.4M639.5 221.8V230.2M640.6 228.0V232.3M641.8 211.2V220.7M642.9 221.1V226.6M644.1 206.7V218.1M645.2 214.9V220.3M646.4 202.1V212.5M647.5 200.5V208.1M648.7 217.3V230.0M649.8 196.5V213.3M651.0 184.1V198.4M652.1 192.0V206.5M653.3 166.0V182.4M654.4 166.9V177.7M655.6 186.4V203.2M656.7 168.4V188.8M657.9 164.3V174.4M659.0 173.4V193.5M660.2 135.4V152.2M661.3 145.9V160.4M662.5 152.5V168.9M663.6 164.5V178.6M664.8 156.1V182.6M665.9 152.8V174.9M667.1 121.0V143.6M668.2 147.5V170.5M669.4 111.6V131.3M670.5 74.9V102.5M671.7 143.5V173.8M672.8 128.5V154.1M674.0 82.3V120.6M675.1 102.8V130.6M676.3 130.2V149.8M677.4 105.4V136.4M678.6 106.9V131.4M679.7 82.6V118.3M680.9 121.6V151.0M682.0 109.4V134.8M683.2 107.2V130.7M684.3 95.7V120.1M685.5 102.6V141.4M686.6 140.2V164.0M687.8 141.5V158.0M688.9 76.0V110.4M690.1 114.9V153.7M691.2 113.1V133.5M692.4 108.5V147.2M693.5 115.4V130.7M694.7 94.5V115.2M695.8 120.5V153.8M697.0 113.5V136.1M698.1 120.3V149.6M699.3 131.7V157.8M700.4 162.8V190.6M701.6 158.2V178.9M702.7 140.7V155.2M703.9 166.2V186.2M705.0 167.1V196.8M706.2 176.3V195.2M707.3 196.7V214.4M708.5 193.3V214.7M709.6 183.9V202.6M710.8 205.3V221.9M711.9 217.5V228.8M713.1 196.4V205.8M714.2 201.0V208.7M715.4 215.5V225.0M716.5 232.0V238.1M717.7 213.5V220.3M718.8 220.1V234.0M720.0 245.8V255.8M721.1 245.5V250.0M722.3 252.0V258.6M723.4 260.4V266.2M724.6 235.4V240.8M725.7 235.0V245.3M726.9 266.2V269.4M728.0 249.9V254.8M729.2 258.0V261.3M730.3 254.5V263.1M731.5 255.8V258.6M732.6 256.5V261.6M733.8 260.9V269.4M734.9 268.3V269.4M736.1 267.1V267.9M737.2 267.8V268.4M738.4 268.7V269.2" stroke="#4a4948" stroke-width="1.3" fill="none" opacity="0.88"/>
<path d="M427.9 268.4L429.0 268.4L430.2 268.3L431.3 268.2L432.5 268.2L433.6 268.1L434.8 268.0L435.9 268.0L437.1 267.9L438.2 267.8L439.4 267.7L440.5 267.6L441.7 267.6L442.8 267.5L444.0 267.5L445.1 267.4L446.3 267.2L447.4 267.1L448.6 267.1L449.7 267.0L450.9 266.9L452.0 266.7L453.2 266.6L454.3 266.5L455.5 266.4L456.6 266.4L457.8 266.2L458.9 266.1L460.1 266.0L461.2 265.9L462.4 265.5L463.5 265.3L464.7 265.1L465.8 264.8L467.0 264.7L468.1 264.4L469.3 264.3L470.4 263.8L471.6 263.6L472.7 263.4L473.9 263.1L475.0 262.8L476.2 262.5L477.3 262.3L478.5 262.1L479.6 261.8L480.8 261.4L481.9 261.3L483.1 261.1L484.2 260.9L485.4 260.5L486.5 260.2L487.7 259.8L488.8 259.4L490.0 259.1L491.1 258.8L492.3 258.0L493.4 257.8L494.6 257.2L495.7 256.4L496.9 256.1L498.0 255.9L499.2 255.1L500.3 254.8L501.5 254.4L502.6 253.5L503.8 253.2L504.9 252.0L506.1 252.6L507.2 251.9L508.4 251.3L509.5 250.5L510.7 250.4L511.8 249.3L513.0 249.1L514.1 248.8L515.3 248.1L516.4 247.4L517.6 246.9L518.7 246.4L519.9 245.7L521.0 244.6L522.2 244.1L523.3 243.0L524.5 243.7L525.6 243.3L526.8 241.3L527.9 241.7L529.1 241.3L530.2 241.6L531.4 240.5L532.5 240.3L533.7 239.9L534.8 238.7L536.0 239.6L537.1 238.6L538.3 239.5L539.4 237.6L540.6 238.4L541.7 235.8L542.9 237.8L544.0 235.0L545.2 236.7L546.3 237.0L547.5 235.0L548.6 234.6L549.8 235.3L550.9 235.3L552.1 236.1L553.2 233.7L554.4 232.7L555.5 234.9L556.7 232.3L557.8 230.4L559.0 234.0L560.1 231.1L561.3 230.9L562.4 232.0L563.6 230.7L564.7 232.2L565.9 230.1L567.0 228.4L568.2 230.7L569.3 230.8L570.5 232.6L571.6 227.2L572.8 227.1L573.9 230.5L575.1 229.8L576.2 230.3L577.4 228.5L578.5 233.1L579.7 230.1L580.8 234.8L582.0 230.7L583.1 233.1L584.3 230.3L585.4 231.9L586.6 234.1L587.7 234.8L588.9 236.0L590.0 232.1L591.2 233.6L592.3 236.7L593.5 238.4L594.6 236.1L595.8 237.4L596.9 238.7L598.1 238.3L599.2 237.9L600.4 239.4L601.5 238.9L602.7 240.2L603.8 240.2L605.0 241.8L606.1 240.1L607.3 241.4L608.4 242.4L609.6 241.9L610.7 242.7L611.9 242.7L613.0 241.5L614.2 240.8L615.3 244.7L616.5 242.1L617.6 241.4L618.8 243.3L619.9 240.3L621.1 241.2L622.2 241.4L623.4 243.5L624.5 242.4L625.7 238.6L626.8 234.1L628.0 238.5L629.1 241.9L630.3 232.8L631.4 234.6L632.6 230.4L633.7 235.3L634.9 228.5L636.0 229.1L637.2 235.1L638.3 229.8L639.5 226.0L640.6 230.1L641.8 216.0L642.9 223.8L644.1 212.4L645.2 217.6L646.4 207.3L647.5 204.3L648.7 223.7L649.8 204.9L651.0 191.3L652.1 199.3L653.3 174.2L654.4 172.3L655.6 194.8L656.7 178.6L657.9 169.3L659.0 183.4L660.2 143.8L661.3 153.2L662.5 160.7L663.6 171.5L664.8 169.3L665.9 163.9L667.1 132.3L668.2 159.0L669.4 121.5L670.5 88.7L671.7 158.6L672.8 141.3L674.0 101.4L675.1 116.7L676.3 140.0L677.4 120.9L678.6 119.1L679.7 100.5L680.9 136.3L682.0 122.1L683.2 118.9L684.3 107.9L685.5 122.0L686.6 152.1L687.8 149.8L688.9 93.2L690.1 134.3L691.2 123.3L692.4 127.8L693.5 123.1L694.7 104.8L695.8 137.2L697.0 124.8L698.1 135.0L699.3 144.7L700.4 176.7L701.6 168.5L702.7 148.0L703.9 176.2L705.0 181.9L706.2 185.8L707.3 205.6L708.5 204.0L709.6 193.3L710.8 213.6L711.9 223.2L713.1 201.1L714.2 204.9L715.4 220.3L716.5 235.1L717.7 216.9L718.8 227.0L720.0 250.8L721.1 247.7L722.3 255.3L723.4 263.3L724.6 238.1L725.7 240.1L726.9 269.4L728.0 252.4L729.2 259.6L730.3 258.8L731.5 257.2L732.6 259.0L733.8 265.8L734.9 269.4L736.1 267.5L737.2 268.1L738.4 269.0L739.5 269.4L740.7 269.4L741.8 269.4L743.0 269.4L744.1 269.4" stroke="#4a4948" stroke-width="1.1" fill="none" stroke-linejoin="round"/>
<path d="M427.9 268.4h0M429.0 268.4h0M430.2 268.3h0M431.3 268.2h0M432.5 268.2h0M433.6 268.1h0M434.8 268.0h0M435.9 268.0h0M437.1 267.9h0M438.2 267.8h0M439.4 267.7h0M440.5 267.6h0M441.7 267.6h0M442.8 267.5h0M444.0 267.5h0M445.1 267.4h0M446.3 267.2h0M447.4 267.1h0M448.6 267.1h0M449.7 267.0h0M450.9 266.9h0M452.0 266.7h0M453.2 266.6h0M454.3 266.5h0M455.5 266.4h0M456.6 266.4h0M457.8 266.2h0M458.9 266.1h0M460.1 266.0h0M461.2 265.9h0M462.4 265.5h0M463.5 265.3h0M464.7 265.1h0M465.8 264.8h0M467.0 264.7h0M468.1 264.4h0M469.3 264.3h0M470.4 263.8h0M471.6 263.6h0M472.7 263.4h0M473.9 263.1h0M475.0 262.8h0M476.2 262.5h0M477.3 262.3h0M478.5 262.1h0M479.6 261.8h0M480.8 261.4h0M481.9 261.3h0M483.1 261.1h0M484.2 260.9h0M485.4 260.5h0M486.5 260.2h0M487.7 259.8h0M488.8 259.4h0M490.0 259.1h0M491.1 258.8h0M492.3 258.0h0M493.4 257.8h0M494.6 257.2h0M495.7 256.4h0M496.9 256.1h0M498.0 255.9h0M499.2 255.1h0M500.3 254.8h0M501.5 254.4h0M502.6 253.5h0M503.8 253.2h0M504.9 252.0h0M506.1 252.6h0M507.2 251.9h0M508.4 251.3h0M509.5 250.5h0M510.7 250.4h0M511.8 249.3h0M513.0 249.1h0M514.1 248.8h0M515.3 248.1h0M516.4 247.4h0M517.6 246.9h0M518.7 246.4h0M519.9 245.7h0M521.0 244.6h0M522.2 244.1h0M523.3 243.0h0M524.5 243.7h0M525.6 243.3h0M526.8 241.3h0M527.9 241.7h0M529.1 241.3h0M530.2 241.6h0M531.4 240.5h0M532.5 240.3h0M533.7 239.9h0M534.8 238.7h0M536.0 239.6h0M537.1 238.6h0M538.3 239.5h0M539.4 237.6h0M540.6 238.4h0M541.7 235.8h0M542.9 237.8h0M544.0 235.0h0M545.2 236.7h0M546.3 237.0h0M547.5 235.0h0M548.6 234.6h0M549.8 235.3h0M550.9 235.3h0M552.1 236.1h0M553.2 233.7h0M554.4 232.7h0M555.5 234.9h0M556.7 232.3h0M557.8 230.4h0M559.0 234.0h0M560.1 231.1h0M561.3 230.9h0M562.4 232.0h0M563.6 230.7h0M564.7 232.2h0M565.9 230.1h0M567.0 228.4h0M568.2 230.7h0M569.3 230.8h0M570.5 232.6h0M571.6 227.2h0M572.8 227.1h0M573.9 230.5h0M575.1 229.8h0M576.2 230.3h0M577.4 228.5h0M578.5 233.1h0M579.7 230.1h0M580.8 234.8h0M582.0 230.7h0M583.1 233.1h0M584.3 230.3h0M585.4 231.9h0M586.6 234.1h0M587.7 234.8h0M588.9 236.0h0M590.0 232.1h0M591.2 233.6h0M592.3 236.7h0M593.5 238.4h0M594.6 236.1h0M595.8 237.4h0M596.9 238.7h0M598.1 238.3h0M599.2 237.9h0M600.4 239.4h0M601.5 238.9h0M602.7 240.2h0M603.8 240.2h0M605.0 241.8h0M606.1 240.1h0M607.3 241.4h0M608.4 242.4h0M609.6 241.9h0M610.7 242.7h0M611.9 242.7h0M613.0 241.5h0M614.2 240.8h0M615.3 244.7h0M616.5 242.1h0M617.6 241.4h0M618.8 243.3h0M619.9 240.3h0M621.1 241.2h0M622.2 241.4h0M623.4 243.5h0M624.5 242.4h0M625.7 238.6h0M626.8 234.1h0M628.0 238.5h0M629.1 241.9h0M630.3 232.8h0M631.4 234.6h0M632.6 230.4h0M633.7 235.3h0M634.9 228.5h0M636.0 229.1h0M637.2 235.1h0M638.3 229.8h0M639.5 226.0h0M640.6 230.1h0M641.8 216.0h0M642.9 223.8h0M644.1 212.4h0M645.2 217.6h0M646.4 207.3h0M647.5 204.3h0M648.7 223.7h0M649.8 204.9h0M651.0 191.3h0M652.1 199.3h0M653.3 174.2h0M654.4 172.3h0M655.6 194.8h0M656.7 178.6h0M657.9 169.3h0M659.0 183.4h0M660.2 143.8h0M661.3 153.2h0M662.5 160.7h0M663.6 171.5h0M664.8 169.3h0M665.9 163.9h0M667.1 132.3h0M668.2 159.0h0M669.4 121.5h0M670.5 88.7h0M671.7 158.6h0M672.8 141.3h0M674.0 101.4h0M675.1 116.7h0M676.3 140.0h0M677.4 120.9h0M678.6 119.1h0M679.7 100.5h0M680.9 136.3h0M682.0 122.1h0M683.2 118.9h0M684.3 107.9h0M685.5 122.0h0M686.6 152.1h0M687.8 149.8h0M688.9 93.2h0M690.1 134.3h0M691.2 123.3h0M692.4 127.8h0M693.5 123.1h0M694.7 104.8h0M695.8 137.2h0M697.0 124.8h0M698.1 135.0h0M699.3 144.7h0M700.4 176.7h0M701.6 168.5h0M702.7 148.0h0M703.9 176.2h0M705.0 181.9h0M706.2 185.8h0M707.3 205.6h0M708.5 204.0h0M709.6 193.3h0M710.8 213.6h0M711.9 223.2h0M713.1 201.1h0M714.2 204.9h0M715.4 220.3h0M716.5 235.1h0M717.7 216.9h0M718.8 227.0h0M720.0 250.8h0M721.1 247.7h0M722.3 255.3h0M723.4 263.3h0M724.6 238.1h0M725.7 240.1h0M726.9 269.4h0M728.0 252.4h0M729.2 259.6h0M730.3 258.8h0M731.5 257.2h0M732.6 259.0h0M733.8 265.8h0M734.9 269.4h0M736.1 267.5h0M737.2 268.1h0M738.4 269.0h0M739.5 269.4h0M740.7 269.4h0M741.8 269.4h0M743.0 269.4h0M744.1 269.4h0" stroke="#4a4948" stroke-width="3.5" stroke-linecap="round" fill="none"/>
<path d="M427.9 267.6V268.6M429.0 267.5V268.5M430.2 267.4V268.4M431.3 267.3V268.4M432.5 267.2V268.2M433.6 267.2V268.2M434.8 267.1V268.0M435.9 266.9V267.9M437.1 266.8V267.8M438.2 266.7V267.7M439.4 266.6V267.6M440.5 266.5V267.5M441.7 266.4V267.4M442.8 266.3V267.3M444.0 266.1V267.1M445.1 266.1V267.1M446.3 266.0V267.0M447.4 265.8V266.9M448.6 265.7V266.7M449.7 265.5V266.6M450.9 265.4V266.5M452.0 265.2V266.2M453.2 265.0V266.1M454.3 265.0V266.1M455.5 264.8V266.0M456.6 264.7V265.8M457.8 264.6V265.6M458.9 264.4V265.5M460.1 264.1V265.2M461.2 263.9V265.1M462.4 263.7V264.7M463.5 263.4V264.5M464.7 263.0V264.2M465.8 262.8V263.9M467.0 262.4V263.7M468.1 262.1V263.3M469.3 261.7V263.1M470.4 261.5V262.9M471.6 261.2V262.5M472.7 260.9V262.2M473.9 260.4V261.7M475.0 260.1V261.5M476.2 259.8V261.2M477.3 259.2V260.6M478.5 259.1V260.6M479.6 259.0V260.2M480.8 258.7V259.9M481.9 258.0V259.3M483.1 257.6V259.0M484.2 257.6V259.0M485.4 257.1V258.5M486.5 256.7V258.0M487.7 256.6V258.0M488.8 256.1V257.8M490.0 255.7V257.2M491.1 254.2V256.1M492.3 254.3V255.9M493.4 253.8V255.4M494.6 253.3V255.1M495.7 252.8V254.7M496.9 251.6V253.7M498.0 252.1V253.6M499.2 251.3V252.7M500.3 250.0V251.9M501.5 250.1V252.3M502.6 249.6V251.7M503.8 249.2V251.2M504.9 249.1V250.8M506.1 248.1V250.2M507.2 247.2V249.0M508.4 247.1V249.1M509.5 246.6V248.3M510.7 246.0V248.6M511.8 246.1V248.2M513.0 244.1V246.4M514.1 244.3V246.9M515.3 243.3V245.9M516.4 242.9V244.9M517.6 241.2V243.8M518.7 242.0V244.1M519.9 240.4V242.5M521.0 240.7V243.5M522.2 239.0V241.3M523.3 237.8V240.8M524.5 238.1V239.9M525.6 237.0V239.3M526.8 235.9V239.0M527.9 234.9V237.3M529.1 234.9V237.5M530.2 231.3V235.0M531.4 233.4V235.4M532.5 231.4V235.1M533.7 230.8V234.0M534.8 229.7V233.1M536.0 229.4V232.8M537.1 227.9V232.0M538.3 228.2V232.6M539.4 227.9V232.0M540.6 226.8V230.1M541.7 224.1V227.9M542.9 222.1V225.5M544.0 225.2V228.0M545.2 222.9V225.6M546.3 222.9V227.5M547.5 219.8V223.8M548.6 220.3V224.7M549.8 215.8V219.1M550.9 219.9V223.6M552.1 215.5V221.0M553.2 218.1V221.4M554.4 217.7V220.8M555.5 214.2V220.6M556.7 217.4V221.7M557.8 213.8V218.5M559.0 215.3V220.6M560.1 213.8V217.6M561.3 213.5V217.0M562.4 217.4V221.7M563.6 213.5V220.3M564.7 213.6V217.3M565.9 212.8V219.8M567.0 211.7V216.5M568.2 212.2V216.2M569.3 211.3V219.3M570.5 210.7V216.3M571.6 211.8V218.1M572.8 213.4V219.2M573.9 211.7V215.6M575.1 211.7V220.3M576.2 210.3V218.4M577.4 215.1V220.1M578.5 214.9V220.8M579.7 216.0V220.5M580.8 214.8V220.7M582.0 218.7V226.1M583.1 216.1V220.8M584.3 217.2V223.0M585.4 216.2V225.7M586.6 219.9V227.3M587.7 216.9V225.5M588.9 217.2V225.8M590.0 216.2V225.5M591.2 221.1V225.7M592.3 218.1V227.0M593.5 220.2V225.9M594.6 221.5V229.9M595.8 221.6V228.6M596.9 224.6V234.4M598.1 226.3V231.7M599.2 224.1V228.5M600.4 223.9V229.7M601.5 224.5V232.6M602.7 226.4V230.6M603.8 221.5V231.2M605.0 227.9V236.1M606.1 225.6V232.6M607.3 231.1V237.5M608.4 230.1V234.2M609.6 227.8V232.3M610.7 228.2V234.8M611.9 230.8V237.2M613.0 223.9V232.2M614.2 230.6V238.9M615.3 232.1V239.0M616.5 226.0V237.0M617.6 229.2V238.1M618.8 223.3V234.7M619.9 225.7V235.0M621.1 224.2V233.6M622.2 221.8V232.6M623.4 217.8V230.7M624.5 221.9V229.4M625.7 218.7V231.8M626.8 217.0V231.9M628.0 215.2V224.9M629.1 208.3V221.5M630.3 207.9V217.1M631.4 209.8V224.2M632.6 202.1V212.9M633.7 203.2V219.2M634.9 199.3V215.0M636.0 175.3V196.3M637.2 194.2V212.7M638.3 170.7V199.8M639.5 192.4V206.3M640.6 173.3V189.4M641.8 176.6V201.0M642.9 170.9V197.4M644.1 149.3V176.8M645.2 157.8V190.0M646.4 165.5V199.3M647.5 160.6V202.8M648.7 162.2V197.4M649.8 126.6V170.9M651.0 126.7V178.6M652.1 157.6V182.9M653.3 137.6V179.5M654.4 105.8V154.5M655.6 136.7V170.3M656.7 132.8V185.4M657.9 103.2V133.7M659.0 122.2V168.1M660.2 120.2V167.0M661.3 95.8V146.0M662.5 95.2V138.9M663.6 99.0V145.8M664.8 137.9V176.3M665.9 144.2V170.8M667.1 135.6V172.8M668.2 111.1V165.5M669.4 134.1V188.8M670.5 106.0V164.7M671.7 135.6V200.9M672.8 131.0V176.2M674.0 127.9V179.5M675.1 119.3V166.9M676.3 158.8V193.4M677.4 137.0V179.9M678.6 120.1V156.9M679.7 132.8V168.0M680.9 168.4V217.9M682.0 137.3V172.1M683.2 126.6V173.7M684.3 168.3V205.8M685.5 185.1V221.8M686.6 163.8V215.3M687.8 158.1V194.3M688.9 206.1V227.6M690.1 181.8V201.6M691.2 157.9V179.8M692.4 189.9V223.0M693.5 176.8V211.6M694.7 181.5V211.2M695.8 201.3V226.5M697.0 227.8V249.8M698.1 197.1V225.0M699.3 203.9V236.2M700.4 203.0V222.2M701.6 229.4V248.8M702.7 210.8V233.2M703.9 220.7V238.5M705.0 231.7V251.6M706.2 230.5V243.1M707.3 240.3V262.8M708.5 231.4V245.6M709.6 235.5V253.9M710.8 239.0V255.8M711.9 244.0V264.6M713.1 256.6V264.7M714.2 265.4V269.4M715.4 258.4V263.9M716.5 257.3V267.4M717.7 266.3V267.7M718.8 267.5V269.0M720.0 268.2V269.2" stroke="#e8413f" stroke-width="1.3" fill="none" opacity="0.88"/>
<path d="M427.9 268.1L429.0 268.0L430.2 267.9L431.3 267.9L432.5 267.7L433.6 267.7L434.8 267.5L435.9 267.4L437.1 267.3L438.2 267.2L439.4 267.1L440.5 267.0L441.7 266.9L442.8 266.8L444.0 266.6L445.1 266.6L446.3 266.5L447.4 266.3L448.6 266.2L449.7 266.1L450.9 266.0L452.0 265.7L453.2 265.5L454.3 265.5L455.5 265.4L456.6 265.2L457.8 265.1L458.9 264.9L460.1 264.7L461.2 264.5L462.4 264.2L463.5 263.9L464.7 263.6L465.8 263.4L467.0 263.1L468.1 262.7L469.3 262.4L470.4 262.2L471.6 261.9L472.7 261.5L473.9 261.1L475.0 260.8L476.2 260.5L477.3 259.9L478.5 259.9L479.6 259.6L480.8 259.3L481.9 258.6L483.1 258.3L484.2 258.3L485.4 257.8L486.5 257.4L487.7 257.3L488.8 257.0L490.0 256.5L491.1 255.2L492.3 255.1L493.4 254.6L494.6 254.2L495.7 253.8L496.9 252.7L498.0 252.8L499.2 252.0L500.3 251.0L501.5 251.2L502.6 250.6L503.8 250.2L504.9 249.9L506.1 249.1L507.2 248.1L508.4 248.1L509.5 247.4L510.7 247.3L511.8 247.1L513.0 245.3L514.1 245.6L515.3 244.6L516.4 243.9L517.6 242.5L518.7 243.0L519.9 241.5L521.0 242.1L522.2 240.2L523.3 239.3L524.5 239.0L525.6 238.2L526.8 237.5L527.9 236.1L529.1 236.2L530.2 233.1L531.4 234.4L532.5 233.3L533.7 232.4L534.8 231.4L536.0 231.1L537.1 229.9L538.3 230.4L539.4 229.9L540.6 228.5L541.7 226.0L542.9 223.8L544.0 226.6L545.2 224.2L546.3 225.2L547.5 221.8L548.6 222.5L549.8 217.4L550.9 221.7L552.1 218.3L553.2 219.8L554.4 219.2L555.5 217.4L556.7 219.6L557.8 216.2L559.0 218.0L560.1 215.7L561.3 215.3L562.4 219.5L563.6 216.9L564.7 215.4L565.9 216.3L567.0 214.1L568.2 214.2L569.3 215.3L570.5 213.5L571.6 214.9L572.8 216.3L573.9 213.6L575.1 216.0L576.2 214.3L577.4 217.6L578.5 217.9L579.7 218.3L580.8 217.7L582.0 222.4L583.1 218.4L584.3 220.1L585.4 220.9L586.6 223.6L587.7 221.2L588.9 221.5L590.0 220.9L591.2 223.4L592.3 222.6L593.5 223.0L594.6 225.7L595.8 225.1L596.9 229.5L598.1 229.0L599.2 226.3L600.4 226.8L601.5 228.6L602.7 228.5L603.8 226.3L605.0 232.0L606.1 229.1L607.3 234.3L608.4 232.2L609.6 230.1L610.7 231.5L611.9 234.0L613.0 228.1L614.2 234.8L615.3 235.5L616.5 231.5L617.6 233.6L618.8 229.0L619.9 230.4L621.1 228.9L622.2 227.2L623.4 224.2L624.5 225.6L625.7 225.3L626.8 224.4L628.0 220.1L629.1 214.9L630.3 212.5L631.4 217.0L632.6 207.5L633.7 211.2L634.9 207.1L636.0 185.8L637.2 203.4L638.3 185.3L639.5 199.3L640.6 181.4L641.8 188.8L642.9 184.1L644.1 163.1L645.2 173.9L646.4 182.4L647.5 181.7L648.7 179.8L649.8 148.8L651.0 152.7L652.1 170.2L653.3 158.5L654.4 130.2L655.6 153.5L656.7 159.1L657.9 118.4L659.0 145.1L660.2 143.6L661.3 120.9L662.5 117.1L663.6 122.4L664.8 157.1L665.9 157.5L667.1 154.2L668.2 138.3L669.4 161.4L670.5 135.3L671.7 168.3L672.8 153.6L674.0 153.7L675.1 143.1L676.3 176.1L677.4 158.4L678.6 138.5L679.7 150.4L680.9 193.2L682.0 154.7L683.2 150.1L684.3 187.1L685.5 203.4L686.6 189.6L687.8 176.2L688.9 216.9L690.1 191.7L691.2 168.9L692.4 206.4L693.5 194.2L694.7 196.4L695.8 213.9L697.0 238.8L698.1 211.0L699.3 220.1L700.4 212.6L701.6 239.1L702.7 222.0L703.9 229.6L705.0 241.7L706.2 236.8L707.3 251.5L708.5 238.5L709.6 244.7L710.8 247.4L711.9 254.3L713.1 260.7L714.2 269.3L715.4 261.1L716.5 262.3L717.7 267.0L718.8 268.2L720.0 268.7L721.1 269.4L722.3 269.4L723.4 269.4L724.6 269.4L725.7 269.4L726.9 269.4L728.0 269.4L729.2 269.4L730.3 269.4L731.5 269.4L732.6 269.4L733.8 269.4L734.9 269.4L736.1 269.4L737.2 269.4L738.4 269.4L739.5 269.4L740.7 269.4L741.8 269.4L743.0 269.4L744.1 269.4" stroke="#e8413f" stroke-width="1.1" fill="none" stroke-linejoin="round"/>
<path d="M427.9 268.1h0M429.0 268.0h0M430.2 267.9h0M431.3 267.9h0M432.5 267.7h0M433.6 267.7h0M434.8 267.5h0M435.9 267.4h0M437.1 267.3h0M438.2 267.2h0M439.4 267.1h0M440.5 267.0h0M441.7 266.9h0M442.8 266.8h0M444.0 266.6h0M445.1 266.6h0M446.3 266.5h0M447.4 266.3h0M448.6 266.2h0M449.7 266.1h0M450.9 266.0h0M452.0 265.7h0M453.2 265.5h0M454.3 265.5h0M455.5 265.4h0M456.6 265.2h0M457.8 265.1h0M458.9 264.9h0M460.1 264.7h0M461.2 264.5h0M462.4 264.2h0M463.5 263.9h0M464.7 263.6h0M465.8 263.4h0M467.0 263.1h0M468.1 262.7h0M469.3 262.4h0M470.4 262.2h0M471.6 261.9h0M472.7 261.5h0M473.9 261.1h0M475.0 260.8h0M476.2 260.5h0M477.3 259.9h0M478.5 259.9h0M479.6 259.6h0M480.8 259.3h0M481.9 258.6h0M483.1 258.3h0M484.2 258.3h0M485.4 257.8h0M486.5 257.4h0M487.7 257.3h0M488.8 257.0h0M490.0 256.5h0M491.1 255.2h0M492.3 255.1h0M493.4 254.6h0M494.6 254.2h0M495.7 253.8h0M496.9 252.7h0M498.0 252.8h0M499.2 252.0h0M500.3 251.0h0M501.5 251.2h0M502.6 250.6h0M503.8 250.2h0M504.9 249.9h0M506.1 249.1h0M507.2 248.1h0M508.4 248.1h0M509.5 247.4h0M510.7 247.3h0M511.8 247.1h0M513.0 245.3h0M514.1 245.6h0M515.3 244.6h0M516.4 243.9h0M517.6 242.5h0M518.7 243.0h0M519.9 241.5h0M521.0 242.1h0M522.2 240.2h0M523.3 239.3h0M524.5 239.0h0M525.6 238.2h0M526.8 237.5h0M527.9 236.1h0M529.1 236.2h0M530.2 233.1h0M531.4 234.4h0M532.5 233.3h0M533.7 232.4h0M534.8 231.4h0M536.0 231.1h0M537.1 229.9h0M538.3 230.4h0M539.4 229.9h0M540.6 228.5h0M541.7 226.0h0M542.9 223.8h0M544.0 226.6h0M545.2 224.2h0M546.3 225.2h0M547.5 221.8h0M548.6 222.5h0M549.8 217.4h0M550.9 221.7h0M552.1 218.3h0M553.2 219.8h0M554.4 219.2h0M555.5 217.4h0M556.7 219.6h0M557.8 216.2h0M559.0 218.0h0M560.1 215.7h0M561.3 215.3h0M562.4 219.5h0M563.6 216.9h0M564.7 215.4h0M565.9 216.3h0M567.0 214.1h0M568.2 214.2h0M569.3 215.3h0M570.5 213.5h0M571.6 214.9h0M572.8 216.3h0M573.9 213.6h0M575.1 216.0h0M576.2 214.3h0M577.4 217.6h0M578.5 217.9h0M579.7 218.3h0M580.8 217.7h0M582.0 222.4h0M583.1 218.4h0M584.3 220.1h0M585.4 220.9h0M586.6 223.6h0M587.7 221.2h0M588.9 221.5h0M590.0 220.9h0M591.2 223.4h0M592.3 222.6h0M593.5 223.0h0M594.6 225.7h0M595.8 225.1h0M596.9 229.5h0M598.1 229.0h0M599.2 226.3h0M600.4 226.8h0M601.5 228.6h0M602.7 228.5h0M603.8 226.3h0M605.0 232.0h0M606.1 229.1h0M607.3 234.3h0M608.4 232.2h0M609.6 230.1h0M610.7 231.5h0M611.9 234.0h0M613.0 228.1h0M614.2 234.8h0M615.3 235.5h0M616.5 231.5h0M617.6 233.6h0M618.8 229.0h0M619.9 230.4h0M621.1 228.9h0M622.2 227.2h0M623.4 224.2h0M624.5 225.6h0M625.7 225.3h0M626.8 224.4h0M628.0 220.1h0M629.1 214.9h0M630.3 212.5h0M631.4 217.0h0M632.6 207.5h0M633.7 211.2h0M634.9 207.1h0M636.0 185.8h0M637.2 203.4h0M638.3 185.3h0M639.5 199.3h0M640.6 181.4h0M641.8 188.8h0M642.9 184.1h0M644.1 163.1h0M645.2 173.9h0M646.4 182.4h0M647.5 181.7h0M648.7 179.8h0M649.8 148.8h0M651.0 152.7h0M652.1 170.2h0M653.3 158.5h0M654.4 130.2h0M655.6 153.5h0M656.7 159.1h0M657.9 118.4h0M659.0 145.1h0M660.2 143.6h0M661.3 120.9h0M662.5 117.1h0M663.6 122.4h0M664.8 157.1h0M665.9 157.5h0M667.1 154.2h0M668.2 138.3h0M669.4 161.4h0M670.5 135.3h0M671.7 168.3h0M672.8 153.6h0M674.0 153.7h0M675.1 143.1h0M676.3 176.1h0M677.4 158.4h0M678.6 138.5h0M679.7 150.4h0M680.9 193.2h0M682.0 154.7h0M683.2 150.1h0M684.3 187.1h0M685.5 203.4h0M686.6 189.6h0M687.8 176.2h0M688.9 216.9h0M690.1 191.7h0M691.2 168.9h0M692.4 206.4h0M693.5 194.2h0M694.7 196.4h0M695.8 213.9h0M697.0 238.8h0M698.1 211.0h0M699.3 220.1h0M700.4 212.6h0M701.6 239.1h0M702.7 222.0h0M703.9 229.6h0M705.0 241.7h0M706.2 236.8h0M707.3 251.5h0M708.5 238.5h0M709.6 244.7h0M710.8 247.4h0M711.9 254.3h0M713.1 260.7h0M714.2 269.3h0M715.4 261.1h0M716.5 262.3h0M717.7 267.0h0M718.8 268.2h0M720.0 268.7h0M721.1 269.4h0M722.3 269.4h0M723.4 269.4h0M724.6 269.4h0M725.7 269.4h0M726.9 269.4h0M728.0 269.4h0M729.2 269.4h0M730.3 269.4h0M731.5 269.4h0M732.6 269.4h0M733.8 269.4h0M734.9 269.4h0M736.1 269.4h0M737.2 269.4h0M738.4 269.4h0M739.5 269.4h0M740.7 269.4h0M741.8 269.4h0M743.0 269.4h0M744.1 269.4h0" stroke="#e8413f" stroke-width="3.5" stroke-linecap="round" fill="none"/>
<path d="M427.9 267.9V268.9M429.0 267.9V268.9M430.2 267.8V268.8M431.3 267.7V268.7M432.5 267.7V268.6M433.6 267.6V268.6M434.8 267.5V268.5M435.9 267.5V268.5M437.1 267.4V268.4M438.2 267.3V268.3M439.4 267.2V268.3M440.5 267.1V268.1M441.7 267.1V268.1M442.8 267.0V268.0M444.0 267.0V268.0M445.1 266.9V267.9M446.3 266.7V267.7M447.4 266.6V267.6M448.6 266.6V267.6M449.7 266.5V267.5M450.9 266.4V267.4M452.0 266.2V267.3M453.2 266.1V267.2M454.3 266.0V267.1M455.5 265.9V266.9M456.6 265.9V266.9M457.8 265.7V266.8M458.9 265.5V266.6M460.1 265.4V266.5M461.2 265.4V266.4M462.4 265.0V266.0M463.5 264.8V265.9M464.7 264.5V265.6M465.8 264.2V265.3M467.0 264.1V265.2M468.1 263.8V265.0M469.3 263.7V264.9M470.4 263.3V264.4M471.6 263.0V264.1M472.7 262.8V264.0M473.9 262.5V263.7M475.0 262.2V263.3M476.2 261.9V263.2M477.3 261.6V263.0M478.5 261.5V262.7M479.6 261.2V262.5M480.8 260.8V262.1M481.9 260.7V261.9M483.1 260.4V261.8M484.2 260.1V261.6M485.4 259.7V261.3M486.5 259.5V260.8M487.7 259.1V260.4M488.8 258.8V260.0M490.0 258.3V259.9M491.1 258.0V259.6M492.3 257.3V258.7M493.4 257.1V258.5M494.6 256.3V258.0M495.7 255.5V257.4M496.9 255.2V257.0M498.0 255.1V256.6M499.2 254.2V255.9M500.3 254.0V255.6M501.5 253.7V255.1M502.6 252.6V254.4M503.8 252.1V254.2M504.9 251.3V252.7M506.1 251.9V253.4M507.2 251.0V252.7M508.4 250.6V252.0M509.5 249.7V251.3M510.7 249.2V251.5M511.8 248.5V250.1M513.0 248.1V250.2M514.1 247.7V249.9M515.3 247.2V248.9M516.4 246.3V248.6M517.6 246.0V247.7M518.7 245.2V247.6M519.9 244.3V247.1M521.0 243.6V245.6M522.2 243.2V244.9M523.3 242.1V243.9M524.5 242.4V245.1M525.6 242.1V244.6M526.8 240.4V242.2M527.9 240.5V243.0M529.1 239.6V242.9M530.2 240.4V242.8M531.4 239.2V241.8M532.5 239.1V241.4M533.7 238.6V241.2M534.8 237.6V239.9M536.0 238.6V240.7M537.1 236.7V240.5M538.3 238.1V241.0M539.4 236.3V238.9M540.6 237.1V239.6M541.7 233.9V237.6M542.9 236.5V239.2M544.0 233.1V237.0M545.2 235.4V238.0M546.3 235.4V238.6M547.5 232.9V237.1M548.6 232.4V236.8M549.8 233.0V237.7M550.9 233.5V237.1M552.1 233.9V238.2M553.2 231.9V235.4M554.4 231.3V234.0M555.5 232.9V236.8M556.7 230.6V234.0M557.8 229.1V231.8M559.0 232.2V235.7M560.1 229.3V232.9M561.3 228.7V233.0M562.4 229.5V234.6M563.6 228.4V233.0M564.7 230.0V234.4M565.9 228.5V231.7M567.0 226.9V229.9M568.2 229.0V232.3M569.3 228.2V233.5M570.5 230.8V234.4M571.6 224.4V230.0M572.8 224.4V229.7M573.9 227.6V233.5M575.1 227.8V231.9M576.2 227.4V233.3M577.4 225.9V231.0M578.5 231.0V235.2M579.7 227.5V232.6M580.8 231.3V238.2M582.0 227.5V233.9M583.1 231.5V234.8M584.3 228.5V232.2M585.4 230.3V233.5M586.6 232.2V236.1M587.7 232.9V236.7M588.9 232.6V239.4M590.0 230.0V234.1M591.2 231.0V236.1M592.3 234.7V238.7M593.5 235.8V240.9M594.6 232.4V239.8M595.8 234.1V240.7M596.9 237.1V240.2M598.1 234.7V241.9M599.2 236.1V239.8M600.4 237.4V241.5M601.5 237.0V240.8M602.7 236.8V243.7M603.8 237.1V243.3M605.0 239.0V244.6M606.1 237.6V242.7M607.3 239.1V243.8M608.4 238.7V246.1M609.6 239.6V244.2M610.7 240.6V244.8M611.9 239.5V245.8M613.0 237.8V245.2M614.2 238.1V243.4M615.3 242.1V247.3M616.5 240.0V244.2M617.6 238.7V244.2M618.8 240.0V246.7M619.9 236.7V243.8M621.1 238.7V243.8M622.2 239.4V243.4M623.4 240.7V246.2M624.5 239.1V245.7M625.7 236.6V240.6M626.8 231.9V236.4M628.0 233.4V243.5M629.1 239.6V244.1M630.3 230.4V235.2M631.4 230.0V239.3M632.6 226.6V234.2M633.7 231.0V239.6M634.9 224.0V233.1M636.0 221.4V236.9M637.2 227.8V242.4M638.3 222.6V236.9M639.5 217.7V234.3M640.6 225.9V234.4M641.8 206.5V225.5M642.9 218.3V229.4M644.1 201.0V223.7M645.2 212.2V223.0M646.4 196.8V217.7M647.5 196.8V211.8M648.7 210.9V236.4M649.8 188.0V221.7M651.0 176.9V205.6M652.1 184.8V213.8M653.3 157.9V190.5M654.4 161.6V183.1M655.6 178.0V211.6M656.7 158.3V198.9M657.9 159.2V179.4M659.0 163.4V203.5M660.2 127.0V160.7M661.3 138.7V167.6M662.5 144.3V177.1M663.6 157.4V185.7M664.8 142.9V195.8M665.9 141.8V186.0M667.1 109.7V154.9M668.2 136.1V182.0M669.4 101.8V141.2M670.5 61.0V116.3M671.7 128.3V188.9M672.8 115.8V166.9M674.0 63.2V139.7M675.1 88.9V144.6M676.3 120.3V159.6M677.4 89.9V151.9M678.6 94.6V143.6M679.7 64.8V136.2M680.9 106.9V165.7M682.0 96.6V147.5M683.2 95.5V142.4M684.3 83.4V132.3M685.5 83.3V160.8M686.6 128.4V175.9M687.8 133.3V166.3M688.9 58.8V127.6M690.1 95.5V173.1M691.2 103.0V143.7M692.4 89.2V166.5M693.5 107.7V138.4M694.7 84.2V125.5M695.8 103.9V170.4M697.0 102.2V147.4M698.1 105.7V164.3M699.3 118.6V170.9M700.4 148.9V204.5M701.6 147.8V189.2M702.7 133.5V162.4M703.9 156.3V196.1M705.0 152.2V211.7M706.2 166.9V204.7M707.3 187.9V223.2M708.5 182.6V225.3M709.6 174.5V212.0M710.8 197.0V230.2M711.9 211.8V234.5M713.1 191.7V210.5M714.2 197.1V212.6M715.4 210.8V229.7M716.5 229.0V241.1M717.7 210.1V223.7M718.8 213.2V240.9M720.0 240.8V260.8M721.1 243.2V252.3M722.3 248.8V261.8M723.4 257.4V269.1M724.6 232.7V243.5M725.7 229.8V250.5M726.9 262.9V269.4M728.0 247.4V257.3M729.2 256.3V262.9M730.3 250.2V267.5M731.5 254.5V260.0M732.6 253.9V264.1M733.8 255.9V269.4M734.9 267.3V269.4M736.1 266.8V268.2M737.2 267.5V268.7M738.4 268.4V269.4" stroke="#434ba5" stroke-width="1.3" fill="none" opacity="0.88"/>
<path d="M427.9 268.4L429.0 268.4L430.2 268.3L431.3 268.2L432.5 268.2L433.6 268.1L434.8 268.0L435.9 268.0L437.1 267.9L438.2 267.8L439.4 267.7L440.5 267.6L441.7 267.6L442.8 267.5L444.0 267.5L445.1 267.4L446.3 267.2L447.4 267.1L448.6 267.1L449.7 267.0L450.9 266.9L452.0 266.7L453.2 266.6L454.3 266.5L455.5 266.4L456.6 266.4L457.8 266.2L458.9 266.1L460.1 266.0L461.2 265.9L462.4 265.5L463.5 265.3L464.7 265.1L465.8 264.8L467.0 264.7L468.1 264.4L469.3 264.3L470.4 263.8L471.6 263.6L472.7 263.4L473.9 263.1L475.0 262.8L476.2 262.5L477.3 262.3L478.5 262.1L479.6 261.8L480.8 261.4L481.9 261.3L483.1 261.1L484.2 260.9L485.4 260.5L486.5 260.2L487.7 259.8L488.8 259.4L490.0 259.1L491.1 258.8L492.3 258.0L493.4 257.8L494.6 257.2L495.7 256.4L496.9 256.1L498.0 255.9L499.2 255.1L500.3 254.8L501.5 254.4L502.6 253.5L503.8 253.2L504.9 252.0L506.1 252.6L507.2 251.9L508.4 251.3L509.5 250.5L510.7 250.4L511.8 249.3L513.0 249.1L514.1 248.8L515.3 248.1L516.4 247.4L517.6 246.9L518.7 246.4L519.9 245.7L521.0 244.6L522.2 244.1L523.3 243.0L524.5 243.7L525.6 243.3L526.8 241.3L527.9 241.7L529.1 241.3L530.2 241.6L531.4 240.5L532.5 240.3L533.7 239.9L534.8 238.7L536.0 239.6L537.1 238.6L538.3 239.5L539.4 237.6L540.6 238.4L541.7 235.8L542.9 237.8L544.0 235.0L545.2 236.7L546.3 237.0L547.5 235.0L548.6 234.6L549.8 235.3L550.9 235.3L552.1 236.1L553.2 233.7L554.4 232.7L555.5 234.9L556.7 232.3L557.8 230.4L559.0 234.0L560.1 231.1L561.3 230.9L562.4 232.0L563.6 230.7L564.7 232.2L565.9 230.1L567.0 228.4L568.2 230.7L569.3 230.8L570.5 232.6L571.6 227.2L572.8 227.1L573.9 230.5L575.1 229.8L576.2 230.3L577.4 228.5L578.5 233.1L579.7 230.1L580.8 234.8L582.0 230.7L583.1 233.1L584.3 230.3L585.4 231.9L586.6 234.1L587.7 234.8L588.9 236.0L590.0 232.1L591.2 233.6L592.3 236.7L593.5 238.4L594.6 236.1L595.8 237.4L596.9 238.7L598.1 238.3L599.2 237.9L600.4 239.4L601.5 238.9L602.7 240.2L603.8 240.2L605.0 241.8L606.1 240.1L607.3 241.4L608.4 242.4L609.6 241.9L610.7 242.7L611.9 242.7L613.0 241.5L614.2 240.8L615.3 244.7L616.5 242.1L617.6 241.4L618.8 243.3L619.9 240.3L621.1 241.2L622.2 241.4L623.4 243.5L624.5 242.4L625.7 238.6L626.8 234.1L628.0 238.5L629.1 241.9L630.3 232.8L631.4 234.6L632.6 230.4L633.7 235.3L634.9 228.5L636.0 229.1L637.2 235.1L638.3 229.8L639.5 226.0L640.6 230.1L641.8 216.0L642.9 223.8L644.1 212.4L645.2 217.6L646.4 207.3L647.5 204.3L648.7 223.7L649.8 204.9L651.0 191.3L652.1 199.3L653.3 174.2L654.4 172.3L655.6 194.8L656.7 178.6L657.9 169.3L659.0 183.4L660.2 143.8L661.3 153.2L662.5 160.7L663.6 171.5L664.8 169.3L665.9 163.9L667.1 132.3L668.2 159.0L669.4 121.5L670.5 88.7L671.7 158.6L672.8 141.3L674.0 101.4L675.1 116.7L676.3 140.0L677.4 120.9L678.6 119.1L679.7 100.5L680.9 136.3L682.0 122.1L683.2 118.9L684.3 107.9L685.5 122.0L686.6 152.1L687.8 149.8L688.9 93.2L690.1 134.3L691.2 123.3L692.4 127.8L693.5 123.1L694.7 104.8L695.8 137.2L697.0 124.8L698.1 135.0L699.3 144.7L700.4 176.7L701.6 168.5L702.7 148.0L703.9 176.2L705.0 181.9L706.2 185.8L707.3 205.6L708.5 204.0L709.6 193.3L710.8 213.6L711.9 223.2L713.1 201.1L714.2 204.9L715.4 220.3L716.5 235.1L717.7 216.9L718.8 227.0L720.0 250.8L721.1 247.7L722.3 255.3L723.4 263.3L724.6 238.1L725.7 240.1L726.9 269.4L728.0 252.4L729.2 259.6L730.3 258.8L731.5 257.2L732.6 259.0L733.8 265.8L734.9 269.4L736.1 267.5L737.2 268.1L738.4 269.0L739.5 269.4L740.7 269.4L741.8 269.4L743.0 269.4L744.1 269.4" stroke="#434ba5" stroke-width="1.1" fill="none" stroke-linejoin="round"/>
<path d="M427.9 268.4h0M429.0 268.4h0M430.2 268.3h0M431.3 268.2h0M432.5 268.2h0M433.6 268.1h0M434.8 268.0h0M435.9 268.0h0M437.1 267.9h0M438.2 267.8h0M439.4 267.7h0M440.5 267.6h0M441.7 267.6h0M442.8 267.5h0M444.0 267.5h0M445.1 267.4h0M446.3 267.2h0M447.4 267.1h0M448.6 267.1h0M449.7 267.0h0M450.9 266.9h0M452.0 266.7h0M453.2 266.6h0M454.3 266.5h0M455.5 266.4h0M456.6 266.4h0M457.8 266.2h0M458.9 266.1h0M460.1 266.0h0M461.2 265.9h0M462.4 265.5h0M463.5 265.3h0M464.7 265.1h0M465.8 264.8h0M467.0 264.7h0M468.1 264.4h0M469.3 264.3h0M470.4 263.8h0M471.6 263.6h0M472.7 263.4h0M473.9 263.1h0M475.0 262.8h0M476.2 262.5h0M477.3 262.3h0M478.5 262.1h0M479.6 261.8h0M480.8 261.4h0M481.9 261.3h0M483.1 261.1h0M484.2 260.9h0M485.4 260.5h0M486.5 260.2h0M487.7 259.8h0M488.8 259.4h0M490.0 259.1h0M491.1 258.8h0M492.3 258.0h0M493.4 257.8h0M494.6 257.2h0M495.7 256.4h0M496.9 256.1h0M498.0 255.9h0M499.2 255.1h0M500.3 254.8h0M501.5 254.4h0M502.6 253.5h0M503.8 253.2h0M504.9 252.0h0M506.1 252.6h0M507.2 251.9h0M508.4 251.3h0M509.5 250.5h0M510.7 250.4h0M511.8 249.3h0M513.0 249.1h0M514.1 248.8h0M515.3 248.1h0M516.4 247.4h0M517.6 246.9h0M518.7 246.4h0M519.9 245.7h0M521.0 244.6h0M522.2 244.1h0M523.3 243.0h0M524.5 243.7h0M525.6 243.3h0M526.8 241.3h0M527.9 241.7h0M529.1 241.3h0M530.2 241.6h0M531.4 240.5h0M532.5 240.3h0M533.7 239.9h0M534.8 238.7h0M536.0 239.6h0M537.1 238.6h0M538.3 239.5h0M539.4 237.6h0M540.6 238.4h0M541.7 235.8h0M542.9 237.8h0M544.0 235.0h0M545.2 236.7h0M546.3 237.0h0M547.5 235.0h0M548.6 234.6h0M549.8 235.3h0M550.9 235.3h0M552.1 236.1h0M553.2 233.7h0M554.4 232.7h0M555.5 234.9h0M556.7 232.3h0M557.8 230.4h0M559.0 234.0h0M560.1 231.1h0M561.3 230.9h0M562.4 232.0h0M563.6 230.7h0M564.7 232.2h0M565.9 230.1h0M567.0 228.4h0M568.2 230.7h0M569.3 230.8h0M570.5 232.6h0M571.6 227.2h0M572.8 227.1h0M573.9 230.5h0M575.1 229.8h0M576.2 230.3h0M577.4 228.5h0M578.5 233.1h0M579.7 230.1h0M580.8 234.8h0M582.0 230.7h0M583.1 233.1h0M584.3 230.3h0M585.4 231.9h0M586.6 234.1h0M587.7 234.8h0M588.9 236.0h0M590.0 232.1h0M591.2 233.6h0M592.3 236.7h0M593.5 238.4h0M594.6 236.1h0M595.8 237.4h0M596.9 238.7h0M598.1 238.3h0M599.2 237.9h0M600.4 239.4h0M601.5 238.9h0M602.7 240.2h0M603.8 240.2h0M605.0 241.8h0M606.1 240.1h0M607.3 241.4h0M608.4 242.4h0M609.6 241.9h0M610.7 242.7h0M611.9 242.7h0M613.0 241.5h0M614.2 240.8h0M615.3 244.7h0M616.5 242.1h0M617.6 241.4h0M618.8 243.3h0M619.9 240.3h0M621.1 241.2h0M622.2 241.4h0M623.4 243.5h0M624.5 242.4h0M625.7 238.6h0M626.8 234.1h0M628.0 238.5h0M629.1 241.9h0M630.3 232.8h0M631.4 234.6h0M632.6 230.4h0M633.7 235.3h0M634.9 228.5h0M636.0 229.1h0M637.2 235.1h0M638.3 229.8h0M639.5 226.0h0M640.6 230.1h0M641.8 216.0h0M642.9 223.8h0M644.1 212.4h0M645.2 217.6h0M646.4 207.3h0M647.5 204.3h0M648.7 223.7h0M649.8 204.9h0M651.0 191.3h0M652.1 199.3h0M653.3 174.2h0M654.4 172.3h0M655.6 194.8h0M656.7 178.6h0M657.9 169.3h0M659.0 183.4h0M660.2 143.8h0M661.3 153.2h0M662.5 160.7h0M663.6 171.5h0M664.8 169.3h0M665.9 163.9h0M667.1 132.3h0M668.2 159.0h0M669.4 121.5h0M670.5 88.7h0M671.7 158.6h0M672.8 141.3h0M674.0 101.4h0M675.1 116.7h0M676.3 140.0h0M677.4 120.9h0M678.6 119.1h0M679.7 100.5h0M680.9 136.3h0M682.0 122.1h0M683.2 118.9h0M684.3 107.9h0M685.5 122.0h0M686.6 152.1h0M687.8 149.8h0M688.9 93.2h0M690.1 134.3h0M691.2 123.3h0M692.4 127.8h0M693.5 123.1h0M694.7 104.8h0M695.8 137.2h0M697.0 124.8h0M698.1 135.0h0M699.3 144.7h0M700.4 176.7h0M701.6 168.5h0M702.7 148.0h0M703.9 176.2h0M705.0 181.9h0M706.2 185.8h0M707.3 205.6h0M708.5 204.0h0M709.6 193.3h0M710.8 213.6h0M711.9 223.2h0M713.1 201.1h0M714.2 204.9h0M715.4 220.3h0M716.5 235.1h0M717.7 216.9h0M718.8 227.0h0M720.0 250.8h0M721.1 247.7h0M722.3 255.3h0M723.4 263.3h0M724.6 238.1h0M725.7 240.1h0M726.9 269.4h0M728.0 252.4h0M729.2 259.6h0M730.3 258.8h0M731.5 257.2h0M732.6 259.0h0M733.8 265.8h0M734.9 269.4h0M736.1 267.5h0M737.2 268.1h0M738.4 269.0h0M739.5 269.4h0M740.7 269.4h0M741.8 269.4h0M743.0 269.4h0M744.1 269.4h0" stroke="#434ba5" stroke-width="3.5" stroke-linecap="round" fill="none"/>
<path d="M427.9 267.7V268.7M429.0 267.7V268.7M430.2 267.6V268.6M431.3 267.6V268.5M432.5 267.5V268.5M433.6 267.4V268.3M434.8 267.3V268.3M435.9 267.2V268.2M437.1 267.2V268.1M438.2 267.1V268.1M439.4 267.0V268.0M440.5 266.9V267.9M441.7 266.8V267.8M442.8 266.7V267.7M444.0 266.6V267.6M445.1 266.5V267.5M446.3 266.4V267.4M447.4 266.3V267.3M448.6 266.2V267.3M449.7 266.0V267.1M450.9 266.0V267.1M452.0 265.8V266.8M453.2 265.6V266.7M454.3 265.5V266.6M455.5 265.4V266.6M456.6 265.2V266.3M457.8 265.1V266.2M458.9 265.1V266.2M460.1 264.9V266.0M461.2 264.6V265.6M462.4 264.4V265.5M463.5 264.2V265.2M464.7 263.8V264.9M465.8 263.5V264.7M467.0 263.0V264.3M468.1 262.8V264.0M469.3 262.5V263.7M470.4 262.3V263.5M471.6 262.0V263.4M472.7 261.5V262.8M473.9 261.2V262.5M475.0 261.0V262.4M476.2 260.6V261.9M477.3 260.3V261.8M478.5 260.0V261.4M479.6 259.7V261.0M480.8 259.0V260.5M481.9 258.8V260.3M483.1 258.8V260.3M484.2 258.2V259.7M485.4 257.9V259.5M486.5 257.5V259.1M487.7 257.1V258.7M488.8 256.7V258.3M490.0 256.6V258.1M491.1 255.8V257.5M492.3 255.1V256.6M493.4 254.3V256.2M494.6 253.9V255.5M495.7 253.1V255.2M496.9 253.3V255.0M498.0 252.5V253.8M499.2 251.2V253.3M500.3 251.8V253.6M501.5 250.2V252.4M502.6 249.1V251.3M503.8 249.5V251.1M504.9 248.7V250.7M506.1 247.9V249.9M507.2 247.5V249.8M508.4 246.9V248.5M509.5 247.0V249.4M510.7 245.6V248.2M511.8 244.4V246.1M513.0 243.7V245.4M514.1 242.7V245.3M515.3 242.0V244.8M516.4 241.9V244.9M517.6 241.0V243.7M518.7 239.9V242.2M519.9 239.7V241.5M521.0 238.7V240.5M522.2 236.9V240.2M523.3 236.7V239.8M524.5 236.2V239.1M525.6 234.8V238.4M526.8 233.8V236.6M527.9 232.7V235.5M529.1 231.9V235.2M530.2 231.5V235.3M531.4 228.9V232.1M532.5 228.4V231.3M533.7 227.8V230.1M534.8 226.0V229.0M536.0 224.6V228.3M537.1 224.5V229.6M538.3 220.6V224.9M539.4 220.3V223.0M540.6 218.1V223.2M541.7 215.5V220.4M542.9 217.4V222.5M544.0 213.9V219.9M545.2 212.7V217.0M546.3 211.7V217.7M547.5 210.6V215.2M548.6 209.7V215.7M549.8 207.8V211.3M550.9 207.0V213.5M552.1 204.4V212.1M553.2 201.0V204.6M554.4 200.8V205.2M555.5 202.3V207.0M556.7 203.3V207.1M557.8 199.3V208.2M559.0 195.7V200.9M560.1 195.9V205.3M561.3 194.5V202.6M562.4 197.3V204.3M563.6 195.7V204.4M564.7 195.0V200.3M565.9 192.2V198.8M567.0 187.7V196.7M568.2 196.2V202.4M569.3 195.6V203.3M570.5 195.5V203.5M571.6 188.6V197.5M572.8 189.3V197.6M573.9 185.3V208.6M575.1 191.9V200.8M576.2 192.9V200.5M577.4 192.0V197.1M578.5 194.1V205.2M579.7 198.9V206.2M580.8 196.6V206.7M582.0 188.9V196.7M583.1 192.0V202.0M584.3 193.2V204.9M585.4 194.1V206.6M586.6 197.6V207.5M587.7 197.5V206.0M588.9 196.7V206.5M590.0 196.0V208.2M591.2 198.7V207.8M592.3 202.2V214.9M593.5 203.3V210.8M594.6 201.0V207.2M595.8 206.3V214.3M596.9 203.6V211.5M598.1 203.6V212.9M599.2 203.1V215.1M600.4 201.4V212.2M601.5 208.2V216.2M602.7 207.8V217.7M603.8 210.5V217.2M605.0 209.0V217.3M606.1 210.4V221.7M607.3 210.5V218.4M608.4 210.3V221.8M609.6 208.0V220.9M610.7 211.9V223.6M611.9 210.8V218.4M613.0 212.7V218.5M614.2 213.0V223.8M615.3 208.1V219.8M616.5 213.6V221.5M617.6 202.4V212.9M618.8 210.8V219.9M619.9 196.5V204.9M621.1 204.1V219.4M622.2 191.8V203.2M623.4 204.3V211.7M624.5 195.0V210.6M625.7 193.0V213.6M626.8 191.7V208.1M628.0 199.8V221.4M629.1 192.3V206.3M630.3 190.8V211.7M631.4 181.5V203.2M632.6 182.8V202.3M633.7 187.7V211.4M634.9 173.5V194.8M636.0 170.2V188.7M637.2 167.4V187.7M638.3 171.0V191.7M639.5 149.4V171.1M640.6 156.0V190.4M641.8 178.1V197.9M642.9 162.1V184.1M644.1 161.4V187.3M645.2 136.9V165.3M646.4 136.4V183.6M647.5 154.1V190.1M648.7 149.8V173.1M649.8 137.2V176.1M651.0 163.9V193.4M652.1 119.8V172.2M653.3 148.8V192.0M654.4 124.3V175.5M655.6 144.2V173.7M656.7 134.9V190.3M657.9 143.5V181.4M659.0 120.9V166.9M660.2 161.0V190.7M661.3 164.9V202.7M662.5 147.5V189.6M663.6 155.9V188.8M664.8 174.3V222.3M665.9 149.5V202.1M667.1 171.2V208.1M668.2 166.2V190.9M669.4 145.4V192.0M670.5 185.3V218.3M671.7 169.0V204.4M672.8 158.2V200.1M674.0 196.9V209.4M675.1 210.1V238.9M676.3 190.3V218.9M677.4 176.4V206.6M678.6 185.0V215.6M679.7 182.4V210.3M680.9 214.5V234.6M682.0 222.2V250.5M683.2 210.9V236.8M684.3 212.8V239.1M685.5 223.2V237.7M686.6 228.5V244.7M687.8 230.0V257.8M688.9 222.4V245.4M690.1 229.9V257.8M691.2 233.4V256.3M692.4 248.6V264.6M693.5 233.0V239.7M694.7 242.5V258.8M695.8 260.2V266.1M697.0 258.9V269.4M698.1 258.1V265.6M699.3 258.9V267.4M700.4 248.0V252.2M701.6 253.6V269.4M702.7 264.8V269.4M703.9 265.5V267.4M705.0 266.7V268.4M706.2 267.6V268.8M707.3 268.0V269.3M708.5 268.2V269.3M709.6 268.4V269.4M710.8 268.3V269.4M711.9 268.2V269.4M713.1 268.2V269.3M714.2 268.4V269.4M715.4 268.3V269.4M716.5 268.3V269.4M717.7 268.5V269.4M718.8 268.5V269.4M720.0 268.6V269.4M721.1 268.5V269.4M722.3 268.5V269.4M723.4 268.6V269.4M724.6 268.5V269.4" stroke="#9a3ab3" stroke-width="1.3" fill="none" opacity="0.88"/>
<path d="M427.9 268.2L429.0 268.2L430.2 268.1L431.3 268.0L432.5 268.0L433.6 267.9L434.8 267.8L435.9 267.7L437.1 267.6L438.2 267.6L439.4 267.5L440.5 267.4L441.7 267.3L442.8 267.2L444.0 267.1L445.1 267.0L446.3 266.9L447.4 266.8L448.6 266.7L449.7 266.6L450.9 266.5L452.0 266.3L453.2 266.2L454.3 266.1L455.5 266.0L456.6 265.8L457.8 265.7L458.9 265.6L460.1 265.4L461.2 265.1L462.4 264.9L463.5 264.7L464.7 264.4L465.8 264.1L467.0 263.7L468.1 263.4L469.3 263.1L470.4 262.9L471.6 262.7L472.7 262.1L473.9 261.8L475.0 261.7L476.2 261.2L477.3 261.0L478.5 260.7L479.6 260.3L480.8 259.7L481.9 259.6L483.1 259.5L484.2 259.0L485.4 258.7L486.5 258.3L487.7 257.9L488.8 257.5L490.0 257.4L491.1 256.6L492.3 255.8L493.4 255.2L494.6 254.7L495.7 254.2L496.9 254.1L498.0 253.2L499.2 252.2L500.3 252.7L501.5 251.3L502.6 250.2L503.8 250.3L504.9 249.7L506.1 248.9L507.2 248.6L508.4 247.7L509.5 248.2L510.7 246.9L511.8 245.3L513.0 244.6L514.1 244.0L515.3 243.4L516.4 243.4L517.6 242.3L518.7 241.0L519.9 240.6L521.0 239.6L522.2 238.5L523.3 238.3L524.5 237.6L525.6 236.6L526.8 235.2L527.9 234.1L529.1 233.5L530.2 233.4L531.4 230.5L532.5 229.8L533.7 229.0L534.8 227.5L536.0 226.4L537.1 227.1L538.3 222.7L539.4 221.7L540.6 220.6L541.7 218.0L542.9 220.0L544.0 216.9L545.2 214.9L546.3 214.7L547.5 212.9L548.6 212.7L549.8 209.6L550.9 210.3L552.1 208.2L553.2 202.8L554.4 203.0L555.5 204.6L556.7 205.2L557.8 203.7L559.0 198.3L560.1 200.6L561.3 198.6L562.4 200.8L563.6 200.0L564.7 197.6L565.9 195.5L567.0 192.2L568.2 199.3L569.3 199.5L570.5 199.5L571.6 193.1L572.8 193.5L573.9 197.0L575.1 196.3L576.2 196.7L577.4 194.6L578.5 199.6L579.7 202.6L580.8 201.7L582.0 192.8L583.1 197.0L584.3 199.1L585.4 200.4L586.6 202.6L587.7 201.8L588.9 201.6L590.0 202.1L591.2 203.3L592.3 208.5L593.5 207.0L594.6 204.1L595.8 210.3L596.9 207.5L598.1 208.2L599.2 209.1L600.4 206.8L601.5 212.2L602.7 212.7L603.8 213.8L605.0 213.2L606.1 216.0L607.3 214.4L608.4 216.1L609.6 214.4L610.7 217.7L611.9 214.6L613.0 215.6L614.2 218.4L615.3 213.9L616.5 217.5L617.6 207.7L618.8 215.3L619.9 200.7L621.1 211.7L622.2 197.5L623.4 208.0L624.5 202.8L625.7 203.3L626.8 199.9L628.0 210.6L629.1 199.3L630.3 201.2L631.4 192.3L632.6 192.6L633.7 199.6L634.9 184.2L636.0 179.4L637.2 177.5L638.3 181.3L639.5 160.3L640.6 173.2L641.8 188.0L642.9 173.1L644.1 174.3L645.2 151.1L646.4 160.0L647.5 172.1L648.7 161.5L649.8 156.6L651.0 178.7L652.1 146.0L653.3 170.4L654.4 149.9L655.6 159.0L656.7 162.6L657.9 162.4L659.0 143.9L660.2 175.8L661.3 183.8L662.5 168.6L663.6 172.3L664.8 198.3L665.9 175.8L667.1 189.6L668.2 178.6L669.4 168.7L670.5 201.8L671.7 186.7L672.8 179.2L674.0 203.1L675.1 224.5L676.3 204.6L677.4 191.5L678.6 200.3L679.7 196.3L680.9 224.5L682.0 236.4L683.2 223.8L684.3 226.0L685.5 230.5L686.6 236.6L687.8 243.9L688.9 233.9L690.1 243.8L691.2 244.9L692.4 256.6L693.5 236.3L694.7 250.6L695.8 263.2L697.0 267.1L698.1 261.9L699.3 263.2L700.4 250.1L701.6 263.0L702.7 269.4L703.9 266.4L705.0 267.5L706.2 268.2L707.3 268.6L708.5 268.7L709.6 269.0L710.8 268.8L711.9 268.8L713.1 268.8L714.2 269.0L715.4 268.9L716.5 268.9L717.7 269.1L718.8 269.1L720.0 269.1L721.1 269.1L722.3 269.0L723.4 269.1L724.6 269.1L725.7 269.4L726.9 269.4L728.0 269.4L729.2 269.4L730.3 269.4L731.5 269.4L732.6 269.4L733.8 269.4L734.9 269.4L736.1 269.4L737.2 269.4L738.4 269.4L739.5 269.4L740.7 269.4L741.8 269.4L743.0 269.4L744.1 269.4" stroke="#9a3ab3" stroke-width="1.1" fill="none" stroke-linejoin="round"/>
<path d="M427.9 268.2h0M429.0 268.2h0M430.2 268.1h0M431.3 268.0h0M432.5 268.0h0M433.6 267.9h0M434.8 267.8h0M435.9 267.7h0M437.1 267.6h0M438.2 267.6h0M439.4 267.5h0M440.5 267.4h0M441.7 267.3h0M442.8 267.2h0M444.0 267.1h0M445.1 267.0h0M446.3 266.9h0M447.4 266.8h0M448.6 266.7h0M449.7 266.6h0M450.9 266.5h0M452.0 266.3h0M453.2 266.2h0M454.3 266.1h0M455.5 266.0h0M456.6 265.8h0M457.8 265.7h0M458.9 265.6h0M460.1 265.4h0M461.2 265.1h0M462.4 264.9h0M463.5 264.7h0M464.7 264.4h0M465.8 264.1h0M467.0 263.7h0M468.1 263.4h0M469.3 263.1h0M470.4 262.9h0M471.6 262.7h0M472.7 262.1h0M473.9 261.8h0M475.0 261.7h0M476.2 261.2h0M477.3 261.0h0M478.5 260.7h0M479.6 260.3h0M480.8 259.7h0M481.9 259.6h0M483.1 259.5h0M484.2 259.0h0M485.4 258.7h0M486.5 258.3h0M487.7 257.9h0M488.8 257.5h0M490.0 257.4h0M491.1 256.6h0M492.3 255.8h0M493.4 255.2h0M494.6 254.7h0M495.7 254.2h0M496.9 254.1h0M498.0 253.2h0M499.2 252.2h0M500.3 252.7h0M501.5 251.3h0M502.6 250.2h0M503.8 250.3h0M504.9 249.7h0M506.1 248.9h0M507.2 248.6h0M508.4 247.7h0M509.5 248.2h0M510.7 246.9h0M511.8 245.3h0M513.0 244.6h0M514.1 244.0h0M515.3 243.4h0M516.4 243.4h0M517.6 242.3h0M518.7 241.0h0M519.9 240.6h0M521.0 239.6h0M522.2 238.5h0M523.3 238.3h0M524.5 237.6h0M525.6 236.6h0M526.8 235.2h0M527.9 234.1h0M529.1 233.5h0M530.2 233.4h0M531.4 230.5h0M532.5 229.8h0M533.7 229.0h0M534.8 227.5h0M536.0 226.4h0M537.1 227.1h0M538.3 222.7h0M539.4 221.7h0M540.6 220.6h0M541.7 218.0h0M542.9 220.0h0M544.0 216.9h0M545.2 214.9h0M546.3 214.7h0M547.5 212.9h0M548.6 212.7h0M549.8 209.6h0M550.9 210.3h0M552.1 208.2h0M553.2 202.8h0M554.4 203.0h0M555.5 204.6h0M556.7 205.2h0M557.8 203.7h0M559.0 198.3h0M560.1 200.6h0M561.3 198.6h0M562.4 200.8h0M563.6 200.0h0M564.7 197.6h0M565.9 195.5h0M567.0 192.2h0M568.2 199.3h0M569.3 199.5h0M570.5 199.5h0M571.6 193.1h0M572.8 193.5h0M573.9 197.0h0M575.1 196.3h0M576.2 196.7h0M577.4 194.6h0M578.5 199.6h0M579.7 202.6h0M580.8 201.7h0M582.0 192.8h0M583.1 197.0h0M584.3 199.1h0M585.4 200.4h0M586.6 202.6h0M587.7 201.8h0M588.9 201.6h0M590.0 202.1h0M591.2 203.3h0M592.3 208.5h0M593.5 207.0h0M594.6 204.1h0M595.8 210.3h0M596.9 207.5h0M598.1 208.2h0M599.2 209.1h0M600.4 206.8h0M601.5 212.2h0M602.7 212.7h0M603.8 213.8h0M605.0 213.2h0M606.1 216.0h0M607.3 214.4h0M608.4 216.1h0M609.6 214.4h0M610.7 217.7h0M611.9 214.6h0M613.0 215.6h0M614.2 218.4h0M615.3 213.9h0M616.5 217.5h0M617.6 207.7h0M618.8 215.3h0M619.9 200.7h0M621.1 211.7h0M622.2 197.5h0M623.4 208.0h0M624.5 202.8h0M625.7 203.3h0M626.8 199.9h0M628.0 210.6h0M629.1 199.3h0M630.3 201.2h0M631.4 192.3h0M632.6 192.6h0M633.7 199.6h0M634.9 184.2h0M636.0 179.4h0M637.2 177.5h0M638.3 181.3h0M639.5 160.3h0M640.6 173.2h0M641.8 188.0h0M642.9 173.1h0M644.1 174.3h0M645.2 151.1h0M646.4 160.0h0M647.5 172.1h0M648.7 161.5h0M649.8 156.6h0M651.0 178.7h0M652.1 146.0h0M653.3 170.4h0M654.4 149.9h0M655.6 159.0h0M656.7 162.6h0M657.9 162.4h0M659.0 143.9h0M660.2 175.8h0M661.3 183.8h0M662.5 168.6h0M663.6 172.3h0M664.8 198.3h0M665.9 175.8h0M667.1 189.6h0M668.2 178.6h0M669.4 168.7h0M670.5 201.8h0M671.7 186.7h0M672.8 179.2h0M674.0 203.1h0M675.1 224.5h0M676.3 204.6h0M677.4 191.5h0M678.6 200.3h0M679.7 196.3h0M680.9 224.5h0M682.0 236.4h0M683.2 223.8h0M684.3 226.0h0M685.5 230.5h0M686.6 236.6h0M687.8 243.9h0M688.9 233.9h0M690.1 243.8h0M691.2 244.9h0M692.4 256.6h0M693.5 236.3h0M694.7 250.6h0M695.8 263.2h0M697.0 267.1h0M698.1 261.9h0M699.3 263.2h0M700.4 250.1h0M701.6 263.0h0M702.7 269.4h0M703.9 266.4h0M705.0 267.5h0M706.2 268.2h0M707.3 268.6h0M708.5 268.7h0M709.6 269.0h0M710.8 268.8h0M711.9 268.8h0M713.1 268.8h0M714.2 269.0h0M715.4 268.9h0M716.5 268.9h0M717.7 269.1h0M718.8 269.1h0M720.0 269.1h0M721.1 269.1h0M722.3 269.0h0M723.4 269.1h0M724.6 269.1h0M725.7 269.4h0M726.9 269.4h0M728.0 269.4h0M729.2 269.4h0M730.3 269.4h0M731.5 269.4h0M732.6 269.4h0M733.8 269.4h0M734.9 269.4h0M736.1 269.4h0M737.2 269.4h0M738.4 269.4h0M739.5 269.4h0M740.7 269.4h0M741.8 269.4h0M743.0 269.4h0M744.1 269.4h0" stroke="#9a3ab3" stroke-width="3.5" stroke-linecap="round" fill="none"/>
<path d="M387.30 269.40H396.80" stroke="#1c1c1c" stroke-width="1.8"/>
<text x="384.80" y="275.81" text-anchor="end" font-size="17.8">0</text>
<path d="M387.30 191.70H396.80" stroke="#1c1c1c" stroke-width="1.8"/>
<text x="384.80" y="198.11" text-anchor="end" font-size="17.8">0.5</text>
<path d="M387.30 114.00H396.80" stroke="#1c1c1c" stroke-width="1.8"/>
<text x="384.80" y="120.41" text-anchor="end" font-size="17.8">1.0</text>
<path d="M387.30 36.30H396.80" stroke="#1c1c1c" stroke-width="1.8"/>
<text x="384.80" y="42.71" text-anchor="end" font-size="17.8">1.5</text>
<path d="M396.70 269.40v10.3" stroke="#1c1c1c" stroke-width="1.8"/>
<text x="396.70" y="298.70" text-anchor="middle" font-size="17.8">1</text>
<path d="M461.30 269.40v10.3" stroke="#1c1c1c" stroke-width="1.8"/>
<text x="461.30" y="298.70" text-anchor="middle" font-size="17.8">2</text>
<path d="M525.90 269.40v10.3" stroke="#1c1c1c" stroke-width="1.8"/>
<text x="525.90" y="298.70" text-anchor="middle" font-size="17.8">4</text>
<path d="M590.50 269.40v10.3" stroke="#1c1c1c" stroke-width="1.8"/>
<text x="590.50" y="298.70" text-anchor="middle" font-size="17.8">8</text>
<path d="M655.10 269.40v10.3" stroke="#1c1c1c" stroke-width="1.8"/>
<text x="655.10" y="298.70" text-anchor="middle" font-size="17.8">16</text>
<path d="M719.70 269.40v10.3" stroke="#1c1c1c" stroke-width="1.8"/>
<text x="719.70" y="298.70" text-anchor="middle" font-size="17.8">32</text>
<text x="569.5" y="325" text-anchor="middle" font-size="17.8">Diameter (µm)</text>
<text transform="translate(349.5 152) rotate(-90)" text-anchor="middle" font-size="17.8">Relative volume %</text>
<path d="M406 43.90H427.3" stroke="#8d8b8c" stroke-width="1.1"/><circle cx="416.6" cy="43.90" r="1.3" fill="#8d8b8c"/>
<text x="434" y="49.90" font-size="17.8">Kronos WT</text>
<path d="M406 61.40H427.3" stroke="#2a2a2a" stroke-width="1.1"/><circle cx="416.6" cy="61.40" r="1.3" fill="#2a2a2a"/>
<text x="434" y="67.40" font-size="17.8">WT seg.</text>
<path d="M406 78.90H427.3" stroke="#e8413f" stroke-width="1.1"/><circle cx="416.6" cy="78.90" r="1.3" fill="#e8413f"/>
<text x="434" y="84.90" font-size="17.8" font-style="italic">ss3a</text>
<path d="M406 96.40H427.3" stroke="#434ba5" stroke-width="1.1"/><circle cx="416.6" cy="96.40" r="1.3" fill="#434ba5"/>
<text x="434" y="102.40" font-size="17.8" font-style="italic">ss3b</text>
<path d="M406 113.90H427.3" stroke="#9a3ab3" stroke-width="1.1"/><circle cx="416.6" cy="113.90" r="1.3" fill="#9a3ab3"/>
<text x="434" y="119.90" font-size="17.8" font-style="italic">ss3a ss3b</text></g>
<g><text x="28.6" y="758.3" font-size="16.5" font-weight="bold">(f)</text>
<text x="204.5" y="783.5" text-anchor="middle" font-size="17.8" font-style="italic">ss3a</text>
<text x="467.5" y="783.5" text-anchor="middle" font-size="17.8" font-style="italic">ss3a ss3b</text>
<defs><clipPath id="cl"><rect x="76" y="792" width="258" height="258"/></clipPath><clipPath id="cr"><rect x="338" y="792" width="258.5" height="258"/></clipPath><filter id="b1" filterUnits="userSpaceOnUse" x="0" y="740" width="700" height="360"><feGaussianBlur stdDeviation="0.8"/></filter><filter id="b2" filterUnits="userSpaceOnUse" x="0" y="740" width="700" height="360"><feGaussianBlur stdDeviation="1.8"/></filter><filter id="b3" filterUnits="userSpaceOnUse" x="0" y="740" width="700" height="360"><feGaussianBlur stdDeviation="3"/></filter><filter id="b4" filterUnits="userSpaceOnUse" x="0" y="740" width="700" height="360"><feGaussianBlur stdDeviation="4.5"/></filter><filter id="b6" filterUnits="userSpaceOnUse" x="0" y="740" width="700" height="360"><feGaussianBlur stdDeviation="7"/></filter><filter id="b9" filterUnits="userSpaceOnUse" x="0" y="740" width="700" height="360"><feGaussianBlur stdDeviation="12"/></filter></defs>
<g clip-path="url(#cl)"><rect x="76" y="792" width="258" height="258" fill="#131518"/>
<ellipse cx="74.1" cy="797.4" rx="37.3" ry="33.1" fill="#6a6a60" transform="rotate(-40 74.1 797.4)" opacity="0.9" filter="url(#b4)"/>
<ellipse cx="75.0" cy="798.3" rx="27.6" ry="23.2" fill="#ffffff" transform="rotate(-40 75.0 798.3)" filter="url(#b3)"/>
<ellipse cx="76.9" cy="798.8" rx="16.6" ry="14.4" fill="#ffffff" filter="url(#b2)"/>
<clipPath id="gl"><path d="M125.8 864.2 C124.7 851.3 129.4 838.8 139.6 834.1 C150.1 828.6 165.3 826.4 180.4 833.3 C194.2 840.2 201.1 851.3 206.7 857.6 C217.7 870.6 228.8 881.6 230.7 898.2 C232.9 914.8 228.8 927.2 221.3 934.1 C213.6 941.0 205.3 943.8 200.0 942.6 C191.5 941.8 184.6 939.1 180.4 936.0 C173.5 931.3 168.0 924.4 164.1 921.4 C155.6 918.9 151.4 916.1 147.9 913.1 C139.0 906.5 133.5 899.6 131.3 893.5 C127.4 884.4 126.0 873.3 125.8 864.2 Z"/></clipPath>
<g filter="url(#b1)"><g clip-path="url(#gl)"><path d="M125.8 864.2 C124.7 851.3 129.4 838.8 139.6 834.1 C150.1 828.6 165.3 826.4 180.4 833.3 C194.2 840.2 201.1 851.3 206.7 857.6 C217.7 870.6 228.8 881.6 230.7 898.2 C232.9 914.8 228.8 927.2 221.3 934.1 C213.6 941.0 205.3 943.8 200.0 942.6 C191.5 941.8 184.6 939.1 180.4 936.0 C173.5 931.3 168.0 924.4 164.1 921.4 C155.6 918.9 151.4 916.1 147.9 913.1 C139.0 906.5 133.5 899.6 131.3 893.5 C127.4 884.4 126.0 873.3 125.8 864.2 Z" fill="#171d23"/><ellipse cx="139.0" cy="847.1" rx="13.8" ry="15.5" fill="#c0dad5" transform="rotate(-20 139.0 847.1)" filter="url(#b4)"/><ellipse cx="171.6" cy="846.3" rx="13.3" ry="15.5" fill="#b9d3cf" transform="rotate(20 171.6 846.3)" filter="url(#b4)"/><ellipse cx="137.9" cy="882.2" rx="10.5" ry="19.3" fill="#82a0aa" transform="rotate(-10 137.9 882.2)" filter="url(#b4)"/><ellipse cx="177.7" cy="887.7" rx="10.5" ry="18.8" fill="#8faab1" transform="rotate(50 177.7 887.7)" filter="url(#b4)"/><ellipse cx="216.3" cy="888.3" rx="12.7" ry="15.5" fill="#bcd5d1" filter="url(#b4)"/><ellipse cx="179.3" cy="921.4" rx="14.9" ry="16.0" fill="#cfe6e0" transform="rotate(30 179.3 921.4)" filter="url(#b4)"/><ellipse cx="215.8" cy="921.4" rx="12.7" ry="14.9" fill="#b0c8c9" transform="rotate(-20 215.8 921.4)" filter="url(#b4)"/></g></g>
<path d="M125.8 864.2 C124.7 851.3 129.4 838.8 139.6 834.1 C150.1 828.6 165.3 826.4 180.4 833.3 C194.2 840.2 201.1 851.3 206.7 857.6 C217.7 870.6 228.8 881.6 230.7 898.2 C232.9 914.8 228.8 927.2 221.3 934.1 C213.6 941.0 205.3 943.8 200.0 942.6 C191.5 941.8 184.6 939.1 180.4 936.0 C173.5 931.3 168.0 924.4 164.1 921.4 C155.6 918.9 151.4 916.1 147.9 913.1 C139.0 906.5 133.5 899.6 131.3 893.5 C127.4 884.4 126.0 873.3 125.8 864.2 Z" fill="none" stroke="#4a3c30" stroke-width="0.9" opacity=".8" filter="url(#b1)"/>
<path d="M231.5 877.5 C246.7 867.8 266.0 881.6 260.5 903.7 C257.7 917.5 243.9 923.0 235.7 914.8" stroke="#3b4f60" stroke-width="6.07" fill="none" stroke-linecap="round" stroke-linejoin="round" opacity="0.9" filter="url(#b3)"/>
<ellipse cx="238.4" cy="912.6" rx="6.1" ry="5.0" fill="#5f7786" opacity="0.8" filter="url(#b2)"/>
<ellipse cx="246.7" cy="895.4" rx="8.3" ry="12.4" fill="#131518" opacity="0.8" filter="url(#b2)"/>
<ellipse cx="141.5" cy="972.9" rx="22.9" ry="22.1" fill="#2a3842" filter="url(#b3)"/>
<ellipse cx="128.7" cy="961.4" rx="10.1" ry="7.9" fill="#86a1a8" transform="rotate(-40 128.7 961.4)" filter="url(#b3)"/>
<ellipse cx="154.2" cy="962.4" rx="9.5" ry="7.2" fill="#7a959d" transform="rotate(40 154.2 962.4)" filter="url(#b3)"/>
<ellipse cx="128.0" cy="982.7" rx="9.8" ry="7.5" fill="#7f9aa2" transform="rotate(40 128.0 982.7)" filter="url(#b3)"/>
<ellipse cx="154.9" cy="982.7" rx="9.2" ry="7.2" fill="#708b94" transform="rotate(-40 154.9 982.7)" filter="url(#b3)"/>
<ellipse cx="141.5" cy="972.9" rx="6.9" ry="5.9" fill="#131518" filter="url(#b3)"/>
<path d="M120.2 979.1 C123.5 995.5 154.6 997.1 162.7 979.1" stroke="#6a5644" stroke-width="0.82" fill="none" stroke-linecap="round" stroke-linejoin="round" opacity="0.7" filter="url(#b1)"/>
<ellipse cx="90.7" cy="1015.1" rx="32.7" ry="31.1" fill="#1a2329" filter="url(#b3)"/>
<ellipse cx="104.2" cy="999.1" rx="10.1" ry="4.9" fill="#a3babb" transform="rotate(32 104.2 999.1)" filter="url(#b3)"/>
<ellipse cx="95.6" cy="1006.9" rx="8.2" ry="3.9" fill="#5f7880" transform="rotate(32 95.6 1006.9)" filter="url(#b3)"/>
<ellipse cx="90.7" cy="1034.7" rx="11.5" ry="4.9" fill="#5a727b" transform="rotate(-35 90.7 1034.7)" filter="url(#b3)"/>
<ellipse cx="111.2" cy="1026.6" rx="4.9" ry="8.2" fill="#3f535c" transform="rotate(-20 111.2 1026.6)" filter="url(#b3)"/>
<path d="M76.8 984.8 C95.6 984.0 116.9 998.7 120.2 1023.3" stroke="#4a3c30" stroke-width="0.82" fill="none" stroke-linecap="round" stroke-linejoin="round" opacity="0.8" filter="url(#b1)"/>
<ellipse cx="174.2" cy="1065.8" rx="70.4" ry="42.6" fill="#1b242a" filter="url(#b3)"/>
<ellipse cx="141.5" cy="1042.9" rx="18.8" ry="10.1" fill="#d2e5e3" transform="rotate(-12 141.5 1042.9)" filter="url(#b4)"/>
<ellipse cx="130.0" cy="1048.7" rx="14.7" ry="4.9" fill="#e8f4f0" filter="url(#b3)"/>
<ellipse cx="211.8" cy="1045.4" rx="21.3" ry="7.9" fill="#cfe2e0" transform="rotate(8 211.8 1045.4)" filter="url(#b4)"/>
<ellipse cx="171.7" cy="1044.6" rx="5.6" ry="13.1" fill="#131518" opacity="0.9" filter="url(#b3)"/>
<path d="M113.6 1047.8 C133.3 1026.6 198.7 1021.7 233.1 1041.3" stroke="#3a4248" stroke-width="0.98" fill="none" stroke-linecap="round" stroke-linejoin="round" opacity="0.8" filter="url(#b1)"/>
<ellipse cx="219.1" cy="981.0" rx="30.4" ry="33.1" fill="#1c262e" transform="rotate(-20 219.1 981.0)" filter="url(#b4)"/>
<ellipse cx="279.8" cy="961.7" rx="22.1" ry="30.4" fill="#192128" filter="url(#b4)"/>
<path d="M195.6 967.2 C202.5 950.7 230.1 950.7 235.7 972.7 C238.4 989.3 232.9 1005.9 219.1 1008.6 C205.3 1005.9 199.8 989.3 195.6 967.2" stroke="#26343f" stroke-width="4.97" fill="none" stroke-linecap="round" stroke-linejoin="round" opacity="0.9" filter="url(#b3)"/>
<path d="M235.7 997.6 C243.9 986.5 260.5 997.6 260.5 1008.6 C255.0 1019.7 238.4 1016.9 235.7 997.6" stroke="#2e404c" stroke-width="3.31" fill="#3c505c" stroke-linecap="round" stroke-linejoin="round" opacity="0.9" filter="url(#b3)"/>
<ellipse cx="244.5" cy="1009.2" rx="8.3" ry="6.1" fill="#6a838e" opacity="0.8" filter="url(#b3)"/>
<ellipse cx="199.8" cy="964.5" rx="6.9" ry="6.1" fill="#42586a" opacity="0.8" filter="url(#b3)"/>
<ellipse cx="279.8" cy="947.9" rx="13.8" ry="16.6" fill="#1c2831" filter="url(#b3)"/>
<ellipse cx="288.1" cy="978.3" rx="11.0" ry="19.3" fill="#18222a" filter="url(#b3)"/>
<ellipse cx="325.4" cy="965.8" rx="20.7" ry="62.1" fill="#2c3a42" filter="url(#b3)"/>
<ellipse cx="327.9" cy="965.8" rx="17.1" ry="58.0" fill="#181e23" filter="url(#b3)"/>
<path d="M332.3 903.7 C304.7 906.5 299.2 978.3 318.5 1022.4" stroke="#5a4c3c" stroke-width="0.83" fill="none" stroke-linecap="round" stroke-linejoin="round" opacity="0.6" filter="url(#b1)"/>
<path d="M263.8 867.3L257.6 872.8" stroke="#ea3a2e" stroke-width="2" stroke-linecap="round"/><path d="M254.4 875.6L255.9 870.8L259.3 874.7Z" fill="#ea3a2e"/>
<path d="M261.9 917.0L254.1 915.0" stroke="#ea3a2e" stroke-width="2" stroke-linecap="round"/><path d="M250.0 913.9L254.7 912.5L253.4 917.5Z" fill="#ea3a2e"/>
<path d="M199.8 954.0L199.8 947.1" stroke="#ea3a2e" stroke-width="2" stroke-linecap="round"/><path d="M199.8 942.9L202.4 947.1L197.2 947.1Z" fill="#ea3a2e"/>
<rect x="260.5" y="1039" width="65" height="6" fill="#fff"/></g>
<g clip-path="url(#cr)"><rect x="338" y="792" width="258.5" height="258" fill="#1c1b18"/>
<path d="M377.4 925.2 C377.4 909.5 385.2 896.0 398.7 891.5 C405.5 889.2 412.2 890.4 416.3 893.7 C423.5 883.6 437.0 880.2 443.7 881.4 C455.0 881.4 466.2 887.0 470.7 894.9 C479.7 893.7 491.0 898.2 497.7 908.4 C503.4 916.2 504.5 927.5 505.6 936.5 C511.2 943.2 513.5 952.2 506.7 959.0 C500.0 963.5 493.2 961.2 491.0 964.6 C482.0 968.0 466.2 965.7 455.0 965.7 C439.2 968.0 421.2 966.9 410.0 964.6 C392.0 959.0 378.5 945.5 377.4 925.2 Z" fill="#30271f" stroke="#30271f" stroke-width="12" filter="url(#b6)" opacity=".75"/>
<path d="M499.5 908.4 C501.1 890.4 518.0 881.4 531.5 880.7 C545.0 880.7 556.2 885.9 564.1 892.6 C570.8 900.5 568.6 912.9 560.7 917.4 C549.5 924.1 531.5 932.0 520.2 943.2 C515.7 947.7 512.4 950.0 509.0 953.4" stroke="#2c251f" stroke-width="13.50" fill="none" stroke-linecap="round" stroke-linejoin="round" opacity="0.8" filter="url(#b4)"/>
<path d="M499.5 908.4 C501.1 890.4 518.0 881.4 531.5 880.7 C545.0 880.7 556.2 885.9 564.1 892.6 C570.8 900.5 568.6 912.9 560.7 917.4 C549.5 924.1 531.5 932.0 520.2 943.2 C515.7 947.7 512.4 950.0 509.0 953.4 Z" stroke="#4f4740" stroke-width="5.40" fill="#211d19" stroke-linecap="round" stroke-linejoin="round" filter="url(#b3)"/>
<ellipse cx="527.0" cy="903.9" rx="16.9" ry="10.1" fill="#120f0d" opacity="0.7" filter="url(#b4)"/>
<ellipse cx="509.0" cy="934.2" rx="9.0" ry="13.5" fill="#4a433d" transform="rotate(30 509.0 934.2)" opacity="0.8" filter="url(#b3)"/>
<path d="M501.8 893.7 C511.2 882.5 527.0 879.1 538.2 880.7 C551.7 882.5 563.0 888.1 567.5 897.1 C570.2 903.9 568.6 910.6 564.1 915.1" stroke="#a67648" stroke-width="0.79" fill="none" stroke-linecap="round" stroke-linejoin="round" opacity="0.9" filter="url(#b1)"/>
<clipPath id="gr"><path d="M377.4 925.2 C377.4 909.5 385.2 896.0 398.7 891.5 C405.5 889.2 412.2 890.4 416.3 893.7 C423.5 883.6 437.0 880.2 443.7 881.4 C455.0 881.4 466.2 887.0 470.7 894.9 C479.7 893.7 491.0 898.2 497.7 908.4 C503.4 916.2 504.5 927.5 505.6 936.5 C511.2 943.2 513.5 952.2 506.7 959.0 C500.0 963.5 493.2 961.2 491.0 964.6 C482.0 968.0 466.2 965.7 455.0 965.7 C439.2 968.0 421.2 966.9 410.0 964.6 C392.0 959.0 378.5 945.5 377.4 925.2 Z"/></clipPath>
<g filter="url(#b1)"><g clip-path="url(#gr)"><path d="M377.4 925.2 C377.4 909.5 385.2 896.0 398.7 891.5 C405.5 889.2 412.2 890.4 416.3 893.7 C423.5 883.6 437.0 880.2 443.7 881.4 C455.0 881.4 466.2 887.0 470.7 894.9 C479.7 893.7 491.0 898.2 497.7 908.4 C503.4 916.2 504.5 927.5 505.6 936.5 C511.2 943.2 513.5 952.2 506.7 959.0 C500.0 963.5 493.2 961.2 491.0 964.6 C482.0 968.0 466.2 965.7 455.0 965.7 C439.2 968.0 421.2 966.9 410.0 964.6 C392.0 959.0 378.5 945.5 377.4 925.2 Z" fill="#3a3029"/><ellipse cx="395.4" cy="911.3" rx="13.9" ry="11.2" fill="#e2d5c0" transform="rotate(-25 395.4 911.3)" filter="url(#b4)"/><ellipse cx="396.9" cy="944.4" rx="16.2" ry="13.0" fill="#e6d9c4" transform="rotate(25 396.9 944.4)" filter="url(#b4)"/><ellipse cx="429.1" cy="903.9" rx="9.9" ry="20.2" fill="#fbeeda" transform="rotate(5 429.1 903.9)" filter="url(#b4)"/><ellipse cx="429.1" cy="900.5" rx="5.4" ry="11.2" fill="#ffffff" filter="url(#b3)"/><ellipse cx="457.2" cy="903.9" rx="9.9" ry="20.2" fill="#f8ead6" transform="rotate(-5 457.2 903.9)" filter="url(#b4)"/><ellipse cx="457.2" cy="900.5" rx="5.4" ry="11.2" fill="#ffffff" filter="url(#b3)"/><ellipse cx="487.6" cy="912.9" rx="10.3" ry="12.1" fill="#dccdb8" transform="rotate(15 487.6 912.9)" filter="url(#b4)"/><ellipse cx="426.2" cy="958.5" rx="11.2" ry="6.7" fill="#9c8c78" filter="url(#b3)"/><ellipse cx="477.5" cy="950.0" rx="13.9" ry="11.7" fill="#9b8b7a" filter="url(#b4)"/><ellipse cx="461.7" cy="934.2" rx="9.0" ry="6.7" fill="#5e5247" filter="url(#b3)"/><ellipse cx="497.7" cy="945.5" rx="8.1" ry="10.3" fill="#7d7165" filter="url(#b3)"/><path d="M385.2 926.4 C421.2 923.0 466.2 924.1 502.2 927.5" stroke="#1a1613" stroke-width="9.00" fill="none" stroke-linecap="round" stroke-linejoin="round" filter="url(#b3)"/><path d="M443.1 882.5 L443.1 927.5" stroke="#1a1410" stroke-width="4.95" fill="none" stroke-linecap="round" stroke-linejoin="round" filter="url(#b2)"/><path d="M441.5 927.5 L440.4 961.2" stroke="#1a1613" stroke-width="13.50" fill="none" stroke-linecap="round" stroke-linejoin="round" filter="url(#b3)"/><path d="M416.3 893.7 L417.2 925.2" stroke="#1f1813" stroke-width="4.95" fill="none" stroke-linecap="round" stroke-linejoin="round" filter="url(#b2)"/><path d="M470.7 896.0 L469.8 925.2" stroke="#1f1813" stroke-width="4.50" fill="none" stroke-linecap="round" stroke-linejoin="round" filter="url(#b2)"/></g></g>
<path d="M381.9 903.9 C389.7 893.7 407.7 888.1 416.3 893.7 C423.5 883.6 437.0 880.2 443.7 881.4 C455.0 881.4 466.2 887.0 470.7 894.9 C479.7 893.7 491.0 898.2 497.7 908.4" stroke="#a27a50" stroke-width="1.01" fill="none" stroke-linecap="round" stroke-linejoin="round" filter="url(#b1)"/>
<path d="M384.1 906.1 C392.0 896.4 407.7 890.8 416.3 896.4 C423.5 886.3 437.0 882.9 443.7 884.1 C455.0 884.1 466.2 889.7 470.7 897.6 C479.7 896.4 491.0 900.9 496.6 909.9" stroke="#cbbba6" stroke-width="1.12" fill="none" stroke-linecap="round" stroke-linejoin="round" opacity="0.55" filter="url(#b1)"/>
<ellipse cx="485.4" cy="959.0" rx="7.6" ry="5.8" fill="#66707a" transform="rotate(-20 485.4 959.0)" opacity="0.7" filter="url(#b2)"/>
<ellipse cx="486.5" cy="960.1" rx="4.0" ry="2.7" fill="#3a3632" filter="url(#b2)"/>
<ellipse cx="504.9" cy="952.7" rx="6.7" ry="7.2" fill="#5a646e" opacity="0.7" filter="url(#b2)"/>
<ellipse cx="505.8" cy="953.6" rx="3.1" ry="3.6" fill="#35312d" filter="url(#b2)"/>
<ellipse cx="491.0" cy="965.7" rx="9.0" ry="2.2" fill="#b9a48a" transform="rotate(-20 491.0 965.7)" opacity="0.7" filter="url(#b2)"/>
<ellipse cx="558.9" cy="823.1" rx="22.6" ry="17.1" fill="#3d332b" filter="url(#b4)"/>
<ellipse cx="547.6" cy="820.9" rx="9.9" ry="12.1" fill="#6b503e" filter="url(#b4)"/>
<ellipse cx="570.8" cy="820.3" rx="9.4" ry="10.5" fill="#4f453c" filter="url(#b4)"/>
<ellipse cx="558.3" cy="823.7" rx="2.8" ry="8.3" fill="#3a3836" opacity="0.6" filter="url(#b3)"/>
<path d="M412.0 877.5L412.0 884.6" stroke="#ea3a2e" stroke-width="2" stroke-linecap="round"/><path d="M412.0 888.8L409.4 884.6L414.6 884.6Z" fill="#ea3a2e"/>
<path d="M443.7 871.1L443.7 878.3" stroke="#ea3a2e" stroke-width="2" stroke-linecap="round"/><path d="M443.7 882.5L441.1 878.3L446.3 878.3Z" fill="#ea3a2e"/>
<path d="M486.8 883.0L483.9 889.4" stroke="#ea3a2e" stroke-width="2" stroke-linecap="round"/><path d="M482.1 893.2L481.5 888.3L486.2 890.5Z" fill="#ea3a2e"/>
<path d="M532.1 869.2L532.1 876.3" stroke="#ea3a2e" stroke-width="2" stroke-linecap="round"/><path d="M532.1 880.5L529.5 876.3L534.7 876.3Z" fill="#ea3a2e"/>
<path d="M527.1 958.4L520.3 955.9" stroke="#ea3a2e" stroke-width="2" stroke-linecap="round"/><path d="M516.4 954.5L521.2 953.5L519.4 958.4Z" fill="#ea3a2e"/>
<path d="M493.7 976.9L489.4 970.4" stroke="#ea3a2e" stroke-width="2" stroke-linecap="round"/><path d="M487.1 966.9L491.6 969.0L487.3 971.9Z" fill="#ea3a2e"/>
<rect x="522.5" y="1039" width="65.5" height="6" fill="#fff"/></g>
<rect x="76" y="792" width="258" height="258" fill="none" stroke="#0a0a0a" stroke-width="1.2"/>
<rect x="338" y="792" width="258.5" height="258" fill="none" stroke="#0a0a0a" stroke-width="1.2"/></g>
</svg>
</body></html>
